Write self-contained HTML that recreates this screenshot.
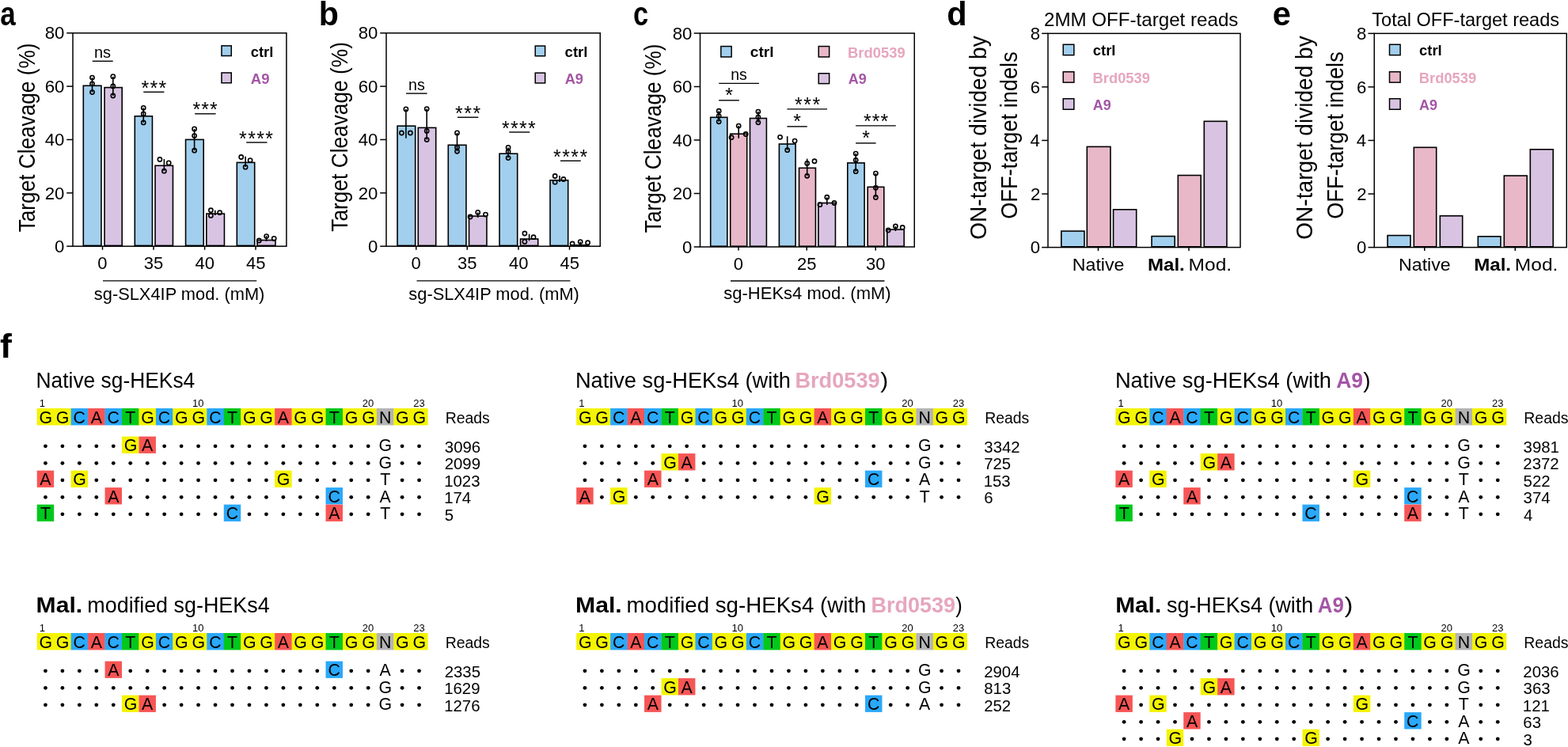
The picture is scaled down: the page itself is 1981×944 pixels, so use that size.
<!DOCTYPE html>
<html><head><meta charset="utf-8"><title>Figure</title>
<style>html,body{margin:0;padding:0;background:#fff;}svg{display:block;}</style>
</head><body>
<svg width="1981" height="944" viewBox="0 0 1981 944" font-family="'Liberation Sans', Arial, sans-serif">
<rect width="1981" height="944" fill="#fff"/>
<text x="0.15" y="32.30" font-size="42" font-weight="bold" fill="#000" textLength="19.44" lengthAdjust="spacingAndGlyphs">a</text>
<text x="402.82" y="32.30" font-size="42" font-weight="bold" fill="#000" textLength="25.16" lengthAdjust="spacingAndGlyphs">b</text>
<text x="799.92" y="32.30" font-size="42" font-weight="bold" fill="#000" textLength="19.15" lengthAdjust="spacingAndGlyphs">c</text>
<text x="1196.34" y="32.30" font-size="42" font-weight="bold" fill="#000" textLength="25.40" lengthAdjust="spacingAndGlyphs">d</text>
<text x="1607.83" y="32.30" font-size="42" font-weight="bold" fill="#000" textLength="23.17" lengthAdjust="spacingAndGlyphs">e</text>
<text x="0.13" y="452.10" font-size="42" font-weight="bold" fill="#000" textLength="14.88" lengthAdjust="spacingAndGlyphs">f</text>
<rect x="105.30" y="108.30" width="22.65" height="202.10" fill="#a2cfed" stroke="#000" stroke-width="1.6"/>
<rect x="132.05" y="110.60" width="22.15" height="199.80" fill="#d8c4e2" stroke="#000" stroke-width="1.6"/>
<rect x="170.30" y="146.80" width="22.15" height="163.60" fill="#a2cfed" stroke="#000" stroke-width="1.6"/>
<rect x="196.05" y="209.30" width="22.40" height="101.10" fill="#d8c4e2" stroke="#000" stroke-width="1.6"/>
<rect x="234.55" y="176.40" width="22.65" height="134.00" fill="#a2cfed" stroke="#000" stroke-width="1.6"/>
<rect x="260.80" y="270.10" width="22.65" height="40.30" fill="#d8c4e2" stroke="#000" stroke-width="1.6"/>
<rect x="299.30" y="205.40" width="22.40" height="105.00" fill="#a2cfed" stroke="#000" stroke-width="1.6"/>
<rect x="325.05" y="303.50" width="22.90" height="6.90" fill="#d8c4e2" stroke="#000" stroke-width="1.6"/>
<line x1="116.50" y1="98.10" x2="116.50" y2="116.60" stroke="#000" stroke-width="1.6"/>
<circle cx="116.50" cy="98.10" r="2.6" fill="none" stroke="#000" stroke-width="1.6"/>
<circle cx="116.50" cy="105.80" r="2.6" fill="none" stroke="#000" stroke-width="1.6"/>
<circle cx="116.50" cy="116.60" r="2.6" fill="none" stroke="#000" stroke-width="1.6"/>
<line x1="142.80" y1="96.65" x2="142.80" y2="121.00" stroke="#000" stroke-width="1.6"/>
<circle cx="142.80" cy="96.65" r="2.6" fill="none" stroke="#000" stroke-width="1.6"/>
<circle cx="142.80" cy="108.90" r="2.6" fill="none" stroke="#000" stroke-width="1.6"/>
<circle cx="142.80" cy="121.00" r="2.6" fill="none" stroke="#000" stroke-width="1.6"/>
<line x1="181.25" y1="136.30" x2="181.25" y2="154.90" stroke="#000" stroke-width="1.6"/>
<circle cx="181.25" cy="136.30" r="2.6" fill="none" stroke="#000" stroke-width="1.6"/>
<circle cx="181.25" cy="143.90" r="2.6" fill="none" stroke="#000" stroke-width="1.6"/>
<circle cx="181.25" cy="154.90" r="2.6" fill="none" stroke="#000" stroke-width="1.6"/>
<line x1="207.40" y1="201.00" x2="207.40" y2="216.20" stroke="#000" stroke-width="1.6"/>
<circle cx="201.90" cy="201.50" r="2.6" fill="none" stroke="#000" stroke-width="1.6"/>
<circle cx="213.20" cy="205.90" r="2.6" fill="none" stroke="#000" stroke-width="1.6"/>
<circle cx="207.40" cy="216.20" r="2.6" fill="none" stroke="#000" stroke-width="1.6"/>
<line x1="245.60" y1="162.90" x2="245.60" y2="190.20" stroke="#000" stroke-width="1.6"/>
<circle cx="245.60" cy="162.90" r="2.6" fill="none" stroke="#000" stroke-width="1.6"/>
<circle cx="245.60" cy="171.60" r="2.6" fill="none" stroke="#000" stroke-width="1.6"/>
<circle cx="245.60" cy="190.20" r="2.6" fill="none" stroke="#000" stroke-width="1.6"/>
<line x1="271.80" y1="265.70" x2="271.80" y2="272.00" stroke="#000" stroke-width="1.6"/>
<circle cx="266.40" cy="265.70" r="2.6" fill="none" stroke="#000" stroke-width="1.6"/>
<circle cx="266.40" cy="272.40" r="2.6" fill="none" stroke="#000" stroke-width="1.6"/>
<circle cx="277.60" cy="268.70" r="2.6" fill="none" stroke="#000" stroke-width="1.6"/>
<line x1="310.10" y1="197.70" x2="310.10" y2="211.00" stroke="#000" stroke-width="1.6"/>
<circle cx="304.70" cy="198.50" r="2.6" fill="none" stroke="#000" stroke-width="1.6"/>
<circle cx="316.10" cy="202.60" r="2.6" fill="none" stroke="#000" stroke-width="1.6"/>
<circle cx="310.10" cy="211.20" r="2.6" fill="none" stroke="#000" stroke-width="1.6"/>
<line x1="336.60" y1="298.00" x2="336.60" y2="305.00" stroke="#000" stroke-width="1.6"/>
<circle cx="327.30" cy="304.00" r="2.6" fill="none" stroke="#000" stroke-width="1.6"/>
<circle cx="336.60" cy="298.60" r="2.6" fill="none" stroke="#000" stroke-width="1.6"/>
<circle cx="346.20" cy="301.40" r="2.6" fill="none" stroke="#000" stroke-width="1.6"/>
<rect x="92.00" y="41.75" width="269.90" height="269.45" fill="none" stroke="#000" stroke-width="1.5"/>
<line x1="84.20" y1="311.20" x2="92.00" y2="311.20" stroke="#000" stroke-width="1.5"/>
<text x="69.06" y="318.86" font-size="22.2" fill="#000">0</text>
<line x1="84.20" y1="243.84" x2="92.00" y2="243.84" stroke="#000" stroke-width="1.5"/>
<text x="56.73" y="251.50" font-size="22.2" fill="#000">20</text>
<line x1="84.20" y1="176.47" x2="92.00" y2="176.47" stroke="#000" stroke-width="1.5"/>
<text x="56.73" y="184.13" font-size="22.2" fill="#000">40</text>
<line x1="84.20" y1="109.11" x2="92.00" y2="109.11" stroke="#000" stroke-width="1.5"/>
<text x="56.73" y="116.77" font-size="22.2" fill="#000">60</text>
<line x1="84.20" y1="41.75" x2="92.00" y2="41.75" stroke="#000" stroke-width="1.5"/>
<text x="56.73" y="49.41" font-size="22.2" fill="#000">80</text>
<line x1="129.50" y1="311.20" x2="129.50" y2="315.70" stroke="#000" stroke-width="1.5"/>
<text x="123.34" y="339.80" font-size="22" fill="#000">0</text>
<line x1="194.00" y1="311.20" x2="194.00" y2="315.70" stroke="#000" stroke-width="1.5"/>
<text x="181.79" y="339.80" font-size="22" fill="#000">35</text>
<line x1="258.60" y1="311.20" x2="258.60" y2="315.70" stroke="#000" stroke-width="1.5"/>
<text x="246.56" y="339.80" font-size="22" fill="#000">40</text>
<line x1="323.00" y1="311.20" x2="323.00" y2="315.70" stroke="#000" stroke-width="1.5"/>
<text x="311.01" y="339.80" font-size="22" fill="#000">45</text>
<line x1="130.00" y1="354.80" x2="324.25" y2="354.80" stroke="#000" stroke-width="1.3"/>
<text x="118.85" y="378.90" font-size="22" fill="#000" textLength="215.54" lengthAdjust="spacingAndGlyphs">sg-SLX4IP mod. (mM)</text>
<text transform="translate(43.60,292.80) rotate(-90)" x="-0.52" y="0" font-size="29" fill="#000" textLength="238.74" lengthAdjust="spacingAndGlyphs">Target Cleavage (%)</text>
<text x="119.00" y="72.80" font-size="21" fill="#000" textLength="21.12" lengthAdjust="spacingAndGlyphs">ns</text>
<line x1="116.70" y1="77.30" x2="142.70" y2="77.30" stroke="#000" stroke-width="1.4"/>
<text x="178.39" y="119.65" font-size="24.86" fill="#000" textLength="31.75" lengthAdjust="spacing">***</text>
<line x1="181.25" y1="116.30" x2="207.40" y2="116.30" stroke="#000" stroke-width="1.4"/>
<text x="243.40" y="146.85" font-size="24.86" fill="#000" textLength="31.34" lengthAdjust="spacing">***</text>
<line x1="246.20" y1="143.80" x2="272.60" y2="143.80" stroke="#000" stroke-width="1.4"/>
<text x="302.09" y="183.80" font-size="24.86" fill="#000" textLength="42.87" lengthAdjust="spacing">****</text>
<line x1="311.20" y1="180.00" x2="337.50" y2="180.00" stroke="#000" stroke-width="1.4"/>
<rect x="279.95" y="57.85" width="12.30" height="12.70" fill="#a2cfed" stroke="#000" stroke-width="1.5"/>
<text x="316.66" y="72.00" font-size="19" font-weight="bold" fill="#000" textLength="28.66" lengthAdjust="spacingAndGlyphs">ctrl</text>
<rect x="279.95" y="91.95" width="12.30" height="12.80" fill="#d8c4e2" stroke="#000" stroke-width="1.5"/>
<text x="316.73" y="105.80" font-size="19" font-weight="bold" fill="#a456a6" textLength="23.78" lengthAdjust="spacingAndGlyphs">A9</text>
<rect x="502.05" y="159.20" width="22.65" height="151.20" fill="#a2cfed" stroke="#000" stroke-width="1.6"/>
<rect x="528.30" y="161.40" width="22.40" height="149.00" fill="#d8c4e2" stroke="#000" stroke-width="1.6"/>
<rect x="566.30" y="183.30" width="22.65" height="127.10" fill="#a2cfed" stroke="#000" stroke-width="1.6"/>
<rect x="592.55" y="273.10" width="22.40" height="37.30" fill="#d8c4e2" stroke="#000" stroke-width="1.6"/>
<rect x="631.05" y="194.20" width="22.65" height="116.20" fill="#a2cfed" stroke="#000" stroke-width="1.6"/>
<rect x="657.55" y="302.00" width="22.15" height="8.40" fill="#d8c4e2" stroke="#000" stroke-width="1.6"/>
<rect x="695.05" y="227.80" width="22.65" height="82.60" fill="#a2cfed" stroke="#000" stroke-width="1.6"/>
<rect x="721.30" y="309.70" width="22.40" height="0.70" fill="#d8c4e2" stroke="#000" stroke-width="1.6"/>
<line x1="512.90" y1="137.90" x2="512.90" y2="174.70" stroke="#000" stroke-width="1.6"/>
<circle cx="512.90" cy="137.90" r="2.6" fill="none" stroke="#000" stroke-width="1.6"/>
<circle cx="507.40" cy="168.00" r="2.6" fill="none" stroke="#000" stroke-width="1.6"/>
<circle cx="518.40" cy="168.00" r="2.6" fill="none" stroke="#000" stroke-width="1.6"/>
<line x1="539.20" y1="137.60" x2="539.20" y2="176.60" stroke="#000" stroke-width="1.6"/>
<circle cx="539.20" cy="137.60" r="2.6" fill="none" stroke="#000" stroke-width="1.6"/>
<circle cx="539.20" cy="165.40" r="2.6" fill="none" stroke="#000" stroke-width="1.6"/>
<circle cx="539.20" cy="176.60" r="2.6" fill="none" stroke="#000" stroke-width="1.6"/>
<line x1="577.50" y1="167.90" x2="577.50" y2="191.30" stroke="#000" stroke-width="1.6"/>
<circle cx="577.50" cy="167.90" r="2.6" fill="none" stroke="#000" stroke-width="1.6"/>
<circle cx="577.50" cy="186.20" r="2.6" fill="none" stroke="#000" stroke-width="1.6"/>
<circle cx="577.50" cy="191.30" r="2.6" fill="none" stroke="#000" stroke-width="1.6"/>
<line x1="603.70" y1="268.40" x2="603.70" y2="275.00" stroke="#000" stroke-width="1.6"/>
<circle cx="594.10" cy="274.00" r="2.6" fill="none" stroke="#000" stroke-width="1.6"/>
<circle cx="603.70" cy="268.40" r="2.6" fill="none" stroke="#000" stroke-width="1.6"/>
<circle cx="613.50" cy="271.10" r="2.6" fill="none" stroke="#000" stroke-width="1.6"/>
<line x1="642.10" y1="186.40" x2="642.10" y2="199.60" stroke="#000" stroke-width="1.6"/>
<circle cx="642.10" cy="186.40" r="2.6" fill="none" stroke="#000" stroke-width="1.6"/>
<circle cx="642.10" cy="191.70" r="2.6" fill="none" stroke="#000" stroke-width="1.6"/>
<circle cx="642.10" cy="199.60" r="2.6" fill="none" stroke="#000" stroke-width="1.6"/>
<line x1="668.60" y1="295.70" x2="668.60" y2="304.30" stroke="#000" stroke-width="1.6"/>
<circle cx="662.90" cy="295.00" r="2.6" fill="none" stroke="#000" stroke-width="1.6"/>
<circle cx="662.90" cy="305.40" r="2.6" fill="none" stroke="#000" stroke-width="1.6"/>
<circle cx="674.00" cy="299.70" r="2.6" fill="none" stroke="#000" stroke-width="1.6"/>
<line x1="707.00" y1="222.00" x2="707.00" y2="230.00" stroke="#000" stroke-width="1.6"/>
<circle cx="701.20" cy="222.50" r="2.6" fill="none" stroke="#000" stroke-width="1.6"/>
<circle cx="701.20" cy="230.20" r="2.6" fill="none" stroke="#000" stroke-width="1.6"/>
<circle cx="711.90" cy="226.50" r="2.6" fill="none" stroke="#000" stroke-width="1.6"/>
<line x1="733.20" y1="305.60" x2="733.20" y2="309.00" stroke="#000" stroke-width="1.6"/>
<circle cx="723.10" cy="308.00" r="2.6" fill="none" stroke="#000" stroke-width="1.6"/>
<circle cx="733.20" cy="305.60" r="2.6" fill="none" stroke="#000" stroke-width="1.6"/>
<circle cx="742.60" cy="306.70" r="2.6" fill="none" stroke="#000" stroke-width="1.6"/>
<rect x="488.00" y="41.75" width="270.25" height="269.45" fill="none" stroke="#000" stroke-width="1.5"/>
<line x1="480.20" y1="311.20" x2="488.00" y2="311.20" stroke="#000" stroke-width="1.5"/>
<text x="465.06" y="318.86" font-size="22.2" fill="#000">0</text>
<line x1="480.20" y1="243.84" x2="488.00" y2="243.84" stroke="#000" stroke-width="1.5"/>
<text x="452.74" y="251.50" font-size="22.2" fill="#000">20</text>
<line x1="480.20" y1="176.47" x2="488.00" y2="176.47" stroke="#000" stroke-width="1.5"/>
<text x="452.74" y="184.13" font-size="22.2" fill="#000">40</text>
<line x1="480.20" y1="109.11" x2="488.00" y2="109.11" stroke="#000" stroke-width="1.5"/>
<text x="452.74" y="116.77" font-size="22.2" fill="#000">60</text>
<line x1="480.20" y1="41.75" x2="488.00" y2="41.75" stroke="#000" stroke-width="1.5"/>
<text x="452.74" y="49.41" font-size="22.2" fill="#000">80</text>
<line x1="525.75" y1="311.20" x2="525.75" y2="315.70" stroke="#000" stroke-width="1.5"/>
<text x="519.59" y="339.80" font-size="22" fill="#000">0</text>
<line x1="590.25" y1="311.20" x2="590.25" y2="315.70" stroke="#000" stroke-width="1.5"/>
<text x="578.04" y="339.80" font-size="22" fill="#000">35</text>
<line x1="655.00" y1="311.20" x2="655.00" y2="315.70" stroke="#000" stroke-width="1.5"/>
<text x="642.96" y="339.80" font-size="22" fill="#000">40</text>
<line x1="719.50" y1="311.20" x2="719.50" y2="315.70" stroke="#000" stroke-width="1.5"/>
<text x="707.51" y="339.80" font-size="22" fill="#000">45</text>
<line x1="526.50" y1="354.80" x2="720.50" y2="354.80" stroke="#000" stroke-width="1.3"/>
<text x="516.35" y="378.90" font-size="22" fill="#000" textLength="215.54" lengthAdjust="spacingAndGlyphs">sg-SLX4IP mod. (mM)</text>
<text transform="translate(439.20,292.20) rotate(-90)" x="-0.53" y="0" font-size="29" fill="#000" textLength="239.65" lengthAdjust="spacingAndGlyphs">Target Cleavage (%)</text>
<text x="516.12" y="114.10" font-size="21" fill="#000" textLength="20.79" lengthAdjust="spacingAndGlyphs">ns</text>
<line x1="513.10" y1="118.10" x2="539.60" y2="118.10" stroke="#000" stroke-width="1.4"/>
<text x="575.09" y="151.80" font-size="24.86" fill="#000" textLength="32.00" lengthAdjust="spacing">***</text>
<line x1="578.00" y1="148.25" x2="604.25" y2="148.25" stroke="#000" stroke-width="1.4"/>
<text x="634.09" y="170.55" font-size="24.86" fill="#000" textLength="42.61" lengthAdjust="spacing">****</text>
<line x1="643.25" y1="167.00" x2="669.25" y2="167.00" stroke="#000" stroke-width="1.4"/>
<text x="699.08" y="206.80" font-size="24.86" fill="#000" textLength="43.12" lengthAdjust="spacing">****</text>
<line x1="708.00" y1="203.25" x2="733.75" y2="203.25" stroke="#000" stroke-width="1.4"/>
<rect x="676.25" y="58.05" width="12.40" height="12.70" fill="#a2cfed" stroke="#000" stroke-width="1.5"/>
<text x="713.56" y="72.00" font-size="19" font-weight="bold" fill="#000" textLength="28.98" lengthAdjust="spacingAndGlyphs">ctrl</text>
<rect x="676.25" y="92.15" width="12.40" height="12.80" fill="#d8c4e2" stroke="#000" stroke-width="1.5"/>
<text x="713.64" y="105.80" font-size="19" font-weight="bold" fill="#a456a6" textLength="23.46" lengthAdjust="spacingAndGlyphs">A9</text>
<rect x="897.70" y="148.30" width="21.10" height="162.90" fill="#a2cfed" stroke="#000" stroke-width="1.6"/>
<rect x="922.70" y="169.20" width="21.00" height="142.00" fill="#e8b8c8" stroke="#000" stroke-width="1.6"/>
<rect x="947.50" y="149.50" width="20.90" height="161.70" fill="#d8c4e2" stroke="#000" stroke-width="1.6"/>
<rect x="984.40" y="182.00" width="20.70" height="129.20" fill="#a2cfed" stroke="#000" stroke-width="1.6"/>
<rect x="1009.55" y="212.30" width="20.90" height="98.90" fill="#e8b8c8" stroke="#000" stroke-width="1.6"/>
<rect x="1033.90" y="256.50" width="21.55" height="54.70" fill="#d8c4e2" stroke="#000" stroke-width="1.6"/>
<rect x="1070.80" y="205.90" width="21.30" height="105.30" fill="#a2cfed" stroke="#000" stroke-width="1.6"/>
<rect x="1096.20" y="236.30" width="20.60" height="74.90" fill="#e8b8c8" stroke="#000" stroke-width="1.6"/>
<rect x="1120.80" y="290.10" width="21.40" height="21.10" fill="#d8c4e2" stroke="#000" stroke-width="1.6"/>
<line x1="908.20" y1="140.20" x2="908.20" y2="153.80" stroke="#000" stroke-width="1.6"/>
<circle cx="908.20" cy="140.20" r="2.6" fill="none" stroke="#000" stroke-width="1.6"/>
<circle cx="908.20" cy="146.60" r="2.6" fill="none" stroke="#000" stroke-width="1.6"/>
<circle cx="908.20" cy="153.80" r="2.6" fill="none" stroke="#000" stroke-width="1.6"/>
<line x1="933.20" y1="159.10" x2="933.20" y2="174.80" stroke="#000" stroke-width="1.6"/>
<circle cx="924.10" cy="173.70" r="2.6" fill="none" stroke="#000" stroke-width="1.6"/>
<circle cx="933.20" cy="159.10" r="2.6" fill="none" stroke="#000" stroke-width="1.6"/>
<circle cx="942.20" cy="169.50" r="2.6" fill="none" stroke="#000" stroke-width="1.6"/>
<line x1="957.90" y1="141.10" x2="957.90" y2="154.80" stroke="#000" stroke-width="1.6"/>
<circle cx="957.90" cy="141.10" r="2.6" fill="none" stroke="#000" stroke-width="1.6"/>
<circle cx="957.90" cy="148.10" r="2.6" fill="none" stroke="#000" stroke-width="1.6"/>
<circle cx="957.90" cy="154.80" r="2.6" fill="none" stroke="#000" stroke-width="1.6"/>
<line x1="994.70" y1="172.20" x2="994.70" y2="189.70" stroke="#000" stroke-width="1.6"/>
<circle cx="985.60" cy="173.30" r="2.6" fill="none" stroke="#000" stroke-width="1.6"/>
<circle cx="1004.10" cy="178.10" r="2.6" fill="none" stroke="#000" stroke-width="1.6"/>
<circle cx="994.70" cy="189.70" r="2.6" fill="none" stroke="#000" stroke-width="1.6"/>
<line x1="1019.70" y1="200.60" x2="1019.70" y2="222.30" stroke="#000" stroke-width="1.6"/>
<circle cx="1019.70" cy="206.40" r="2.6" fill="none" stroke="#000" stroke-width="1.6"/>
<circle cx="1029.00" cy="203.70" r="2.6" fill="none" stroke="#000" stroke-width="1.6"/>
<circle cx="1019.70" cy="222.30" r="2.6" fill="none" stroke="#000" stroke-width="1.6"/>
<line x1="1044.80" y1="249.20" x2="1044.80" y2="259.00" stroke="#000" stroke-width="1.6"/>
<circle cx="1035.90" cy="258.70" r="2.6" fill="none" stroke="#000" stroke-width="1.6"/>
<circle cx="1044.80" cy="249.20" r="2.6" fill="none" stroke="#000" stroke-width="1.6"/>
<circle cx="1054.00" cy="256.50" r="2.6" fill="none" stroke="#000" stroke-width="1.6"/>
<line x1="1081.20" y1="194.10" x2="1081.20" y2="216.70" stroke="#000" stroke-width="1.6"/>
<circle cx="1081.20" cy="194.10" r="2.6" fill="none" stroke="#000" stroke-width="1.6"/>
<circle cx="1081.20" cy="202.30" r="2.6" fill="none" stroke="#000" stroke-width="1.6"/>
<circle cx="1081.20" cy="216.70" r="2.6" fill="none" stroke="#000" stroke-width="1.6"/>
<line x1="1106.40" y1="219.10" x2="1106.40" y2="249.50" stroke="#000" stroke-width="1.6"/>
<circle cx="1106.40" cy="219.10" r="2.6" fill="none" stroke="#000" stroke-width="1.6"/>
<circle cx="1106.40" cy="237.30" r="2.6" fill="none" stroke="#000" stroke-width="1.6"/>
<circle cx="1106.40" cy="249.50" r="2.6" fill="none" stroke="#000" stroke-width="1.6"/>
<line x1="1131.40" y1="286.00" x2="1131.40" y2="292.00" stroke="#000" stroke-width="1.6"/>
<circle cx="1122.20" cy="290.90" r="2.6" fill="none" stroke="#000" stroke-width="1.6"/>
<circle cx="1131.40" cy="286.00" r="2.6" fill="none" stroke="#000" stroke-width="1.6"/>
<circle cx="1140.20" cy="287.50" r="2.6" fill="none" stroke="#000" stroke-width="1.6"/>
<rect x="884.50" y="42.00" width="270.75" height="270.00" fill="none" stroke="#000" stroke-width="1.5"/>
<line x1="876.70" y1="312.00" x2="884.50" y2="312.00" stroke="#000" stroke-width="1.5"/>
<text x="861.96" y="319.66" font-size="22.2" fill="#000">0</text>
<line x1="876.70" y1="244.50" x2="884.50" y2="244.50" stroke="#000" stroke-width="1.5"/>
<text x="849.63" y="252.16" font-size="22.2" fill="#000">20</text>
<line x1="876.70" y1="177.00" x2="884.50" y2="177.00" stroke="#000" stroke-width="1.5"/>
<text x="849.63" y="184.66" font-size="22.2" fill="#000">40</text>
<line x1="876.70" y1="109.50" x2="884.50" y2="109.50" stroke="#000" stroke-width="1.5"/>
<text x="849.63" y="117.16" font-size="22.2" fill="#000">60</text>
<line x1="876.70" y1="42.00" x2="884.50" y2="42.00" stroke="#000" stroke-width="1.5"/>
<text x="849.63" y="49.66" font-size="22.2" fill="#000">80</text>
<line x1="933.00" y1="312.00" x2="933.00" y2="316.50" stroke="#000" stroke-width="1.5"/>
<text x="926.84" y="341.20" font-size="22" fill="#000">0</text>
<line x1="1019.25" y1="312.00" x2="1019.25" y2="316.50" stroke="#000" stroke-width="1.5"/>
<text x="1006.93" y="341.20" font-size="22" fill="#000">25</text>
<line x1="1106.25" y1="312.00" x2="1106.25" y2="316.50" stroke="#000" stroke-width="1.5"/>
<text x="1093.98" y="341.20" font-size="22" fill="#000">30</text>
<line x1="923.00" y1="355.00" x2="1117.50" y2="355.00" stroke="#000" stroke-width="1.3"/>
<text x="914.34" y="378.20" font-size="22" fill="#000" textLength="211.29" lengthAdjust="spacingAndGlyphs">sg-HEKs4 mod. (mM)</text>
<text transform="translate(835.10,293.70) rotate(-90)" x="-0.52" y="0" font-size="29" fill="#000" textLength="238.74" lengthAdjust="spacingAndGlyphs">Target Cleavage (%)</text>
<text x="923.23" y="100.70" font-size="21" fill="#000" textLength="20.57" lengthAdjust="spacingAndGlyphs">ns</text>
<line x1="908.20" y1="105.35" x2="959.00" y2="105.35" stroke="#000" stroke-width="1.4"/>
<text x="916.27" y="129.10" font-size="24.86" fill="#000" textLength="8.54" lengthAdjust="spacing">*</text>
<line x1="908.20" y1="126.80" x2="933.80" y2="126.80" stroke="#000" stroke-width="1.4"/>
<text x="1004.09" y="141.45" font-size="24.86" fill="#000" textLength="32.05" lengthAdjust="spacing">***</text>
<line x1="994.40" y1="137.90" x2="1045.10" y2="137.90" stroke="#000" stroke-width="1.4"/>
<text x="1002.26" y="162.35" font-size="24.86" fill="#000" textLength="8.86" lengthAdjust="spacing">*</text>
<line x1="994.40" y1="159.90" x2="1019.80" y2="159.90" stroke="#000" stroke-width="1.4"/>
<text x="1091.10" y="162.35" font-size="24.86" fill="#000" textLength="31.03" lengthAdjust="spacing">***</text>
<line x1="1081.10" y1="158.90" x2="1131.80" y2="158.90" stroke="#000" stroke-width="1.4"/>
<text x="1089.36" y="183.40" font-size="24.86" fill="#000" textLength="8.76" lengthAdjust="spacing">*</text>
<line x1="1081.10" y1="180.90" x2="1106.60" y2="180.90" stroke="#000" stroke-width="1.4"/>
<rect x="910.85" y="58.55" width="13.30" height="13.40" fill="#a2cfed" stroke="#000" stroke-width="1.5"/>
<text x="947.83" y="72.10" font-size="19" font-weight="bold" fill="#000" textLength="29.84" lengthAdjust="spacingAndGlyphs">ctrl</text>
<rect x="1034.25" y="58.55" width="13.40" height="13.40" fill="#e8b8c8" stroke="#000" stroke-width="1.5"/>
<text x="1071.10" y="72.50" font-size="19" font-weight="bold" fill="#e6a6be" textLength="72.57" lengthAdjust="spacingAndGlyphs">Brd0539</text>
<rect x="1034.25" y="92.75" width="13.40" height="12.90" fill="#d8c4e2" stroke="#000" stroke-width="1.5"/>
<text x="1071.85" y="105.90" font-size="19" font-weight="bold" fill="#a456a6" textLength="23.04" lengthAdjust="spacingAndGlyphs">A9</text>
<rect x="1340.80" y="292.05" width="29.15" height="19.75" fill="#a2cfed" stroke="#000" stroke-width="1.6"/>
<rect x="1373.30" y="185.40" width="29.65" height="126.40" fill="#e8b8c8" stroke="#000" stroke-width="1.6"/>
<rect x="1406.55" y="264.80" width="29.15" height="47.00" fill="#d8c4e2" stroke="#000" stroke-width="1.6"/>
<rect x="1455.05" y="298.55" width="29.15" height="13.25" fill="#a2cfed" stroke="#000" stroke-width="1.6"/>
<rect x="1488.30" y="221.55" width="28.90" height="90.25" fill="#e8b8c8" stroke="#000" stroke-width="1.6"/>
<rect x="1521.30" y="153.30" width="28.65" height="158.50" fill="#d8c4e2" stroke="#000" stroke-width="1.6"/>
<rect x="1324.00" y="42.30" width="243.00" height="270.30" fill="none" stroke="#000" stroke-width="1.5"/>
<line x1="1316.20" y1="312.60" x2="1324.00" y2="312.60" stroke="#000" stroke-width="1.5"/>
<text x="1301.66" y="320.26" font-size="22.2" fill="#000">0</text>
<line x1="1316.20" y1="245.03" x2="1324.00" y2="245.03" stroke="#000" stroke-width="1.5"/>
<text x="1301.99" y="252.80" font-size="22.2" fill="#000">2</text>
<line x1="1316.20" y1="177.45" x2="1324.00" y2="177.45" stroke="#000" stroke-width="1.5"/>
<text x="1301.55" y="185.11" font-size="22.2" fill="#000">4</text>
<line x1="1316.20" y1="109.88" x2="1324.00" y2="109.88" stroke="#000" stroke-width="1.5"/>
<text x="1301.77" y="117.53" font-size="22.2" fill="#000">6</text>
<line x1="1316.20" y1="42.30" x2="1324.00" y2="42.30" stroke="#000" stroke-width="1.5"/>
<text x="1301.77" y="49.96" font-size="22.2" fill="#000">8</text>
<line x1="1387.50" y1="312.60" x2="1387.50" y2="317.10" stroke="#000" stroke-width="1.5"/>
<line x1="1502.00" y1="312.60" x2="1502.00" y2="317.10" stroke="#000" stroke-width="1.5"/>
<text x="1354.85" y="342.10" font-size="22" fill="#000" textLength="65.58" lengthAdjust="spacingAndGlyphs">Native</text>
<text x="1449.93" y="342.10" font-size="22" font-weight="bold" fill="#000" textLength="46.85" lengthAdjust="spacingAndGlyphs">Mal.</text>
<text x="1501.64" y="342.10" font-size="22" fill="#000" textLength="54.44" lengthAdjust="spacingAndGlyphs">Mod.</text>
<text x="1318.99" y="33.00" font-size="24" fill="#000" textLength="245.43" lengthAdjust="spacingAndGlyphs">2MM OFF-target reads</text>
<text transform="translate(1246.00,301.50) rotate(-90)" x="-1.26" y="0" font-size="29" fill="#000" textLength="257.49" lengthAdjust="spacingAndGlyphs">ON-target divided by</text>
<text transform="translate(1285.20,275.60) rotate(-90)" x="-1.22" y="0" font-size="29" fill="#000" textLength="211.59" lengthAdjust="spacingAndGlyphs">OFF-target indels</text>
<rect x="1343.25" y="56.25" width="13.60" height="13.40" fill="#a2cfed" stroke="#000" stroke-width="1.5"/>
<text x="1380.76" y="70.10" font-size="19" font-weight="bold" fill="#000" textLength="28.76" lengthAdjust="spacingAndGlyphs">ctrl</text>
<rect x="1343.25" y="90.75" width="13.60" height="13.40" fill="#e8b8c8" stroke="#000" stroke-width="1.5"/>
<text x="1380.61" y="105.20" font-size="19" font-weight="bold" fill="#e6a6be" textLength="72.27" lengthAdjust="spacingAndGlyphs">Brd0539</text>
<rect x="1343.25" y="124.75" width="13.60" height="13.50" fill="#d8c4e2" stroke="#000" stroke-width="1.5"/>
<text x="1380.85" y="139.10" font-size="19" font-weight="bold" fill="#a456a6" textLength="23.04" lengthAdjust="spacingAndGlyphs">A9</text>
<rect x="1753.05" y="297.55" width="28.90" height="14.25" fill="#a2cfed" stroke="#000" stroke-width="1.6"/>
<rect x="1786.30" y="186.30" width="28.40" height="125.50" fill="#e8b8c8" stroke="#000" stroke-width="1.6"/>
<rect x="1819.30" y="272.80" width="28.40" height="39.00" fill="#d8c4e2" stroke="#000" stroke-width="1.6"/>
<rect x="1867.30" y="298.80" width="28.65" height="13.00" fill="#a2cfed" stroke="#000" stroke-width="1.6"/>
<rect x="1900.30" y="222.05" width="28.90" height="89.75" fill="#e8b8c8" stroke="#000" stroke-width="1.6"/>
<rect x="1933.30" y="188.80" width="28.90" height="123.00" fill="#d8c4e2" stroke="#000" stroke-width="1.6"/>
<rect x="1736.25" y="42.30" width="243.00" height="270.30" fill="none" stroke="#000" stroke-width="1.5"/>
<line x1="1728.45" y1="312.60" x2="1736.25" y2="312.60" stroke="#000" stroke-width="1.5"/>
<text x="1713.91" y="320.26" font-size="22.2" fill="#000">0</text>
<line x1="1728.45" y1="245.03" x2="1736.25" y2="245.03" stroke="#000" stroke-width="1.5"/>
<text x="1714.24" y="252.80" font-size="22.2" fill="#000">2</text>
<line x1="1728.45" y1="177.45" x2="1736.25" y2="177.45" stroke="#000" stroke-width="1.5"/>
<text x="1713.80" y="185.11" font-size="22.2" fill="#000">4</text>
<line x1="1728.45" y1="109.88" x2="1736.25" y2="109.88" stroke="#000" stroke-width="1.5"/>
<text x="1714.02" y="117.53" font-size="22.2" fill="#000">6</text>
<line x1="1728.45" y1="42.30" x2="1736.25" y2="42.30" stroke="#000" stroke-width="1.5"/>
<text x="1714.02" y="49.96" font-size="22.2" fill="#000">8</text>
<line x1="1799.75" y1="312.60" x2="1799.75" y2="317.10" stroke="#000" stroke-width="1.5"/>
<line x1="1914.25" y1="312.60" x2="1914.25" y2="317.10" stroke="#000" stroke-width="1.5"/>
<text x="1767.10" y="342.10" font-size="22" fill="#000" textLength="65.58" lengthAdjust="spacingAndGlyphs">Native</text>
<text x="1862.18" y="342.10" font-size="22" font-weight="bold" fill="#000" textLength="46.85" lengthAdjust="spacingAndGlyphs">Mal.</text>
<text x="1913.89" y="342.10" font-size="22" fill="#000" textLength="54.44" lengthAdjust="spacingAndGlyphs">Mod.</text>
<text x="1733.28" y="33.00" font-size="24" fill="#000" textLength="236.78" lengthAdjust="spacingAndGlyphs">Total OFF-target reads</text>
<text transform="translate(1658.25,301.50) rotate(-90)" x="-1.26" y="0" font-size="29" fill="#000" textLength="257.49" lengthAdjust="spacingAndGlyphs">ON-target divided by</text>
<text transform="translate(1697.45,275.60) rotate(-90)" x="-1.22" y="0" font-size="29" fill="#000" textLength="211.59" lengthAdjust="spacingAndGlyphs">OFF-target indels</text>
<rect x="1755.50" y="56.25" width="13.60" height="13.40" fill="#a2cfed" stroke="#000" stroke-width="1.5"/>
<text x="1793.01" y="70.10" font-size="19" font-weight="bold" fill="#000" textLength="28.76" lengthAdjust="spacingAndGlyphs">ctrl</text>
<rect x="1755.50" y="90.75" width="13.60" height="13.40" fill="#e8b8c8" stroke="#000" stroke-width="1.5"/>
<text x="1792.86" y="105.20" font-size="19" font-weight="bold" fill="#e6a6be" textLength="72.27" lengthAdjust="spacingAndGlyphs">Brd0539</text>
<rect x="1755.50" y="124.75" width="13.60" height="13.50" fill="#d8c4e2" stroke="#000" stroke-width="1.5"/>
<text x="1793.10" y="139.10" font-size="19" font-weight="bold" fill="#a456a6" textLength="23.04" lengthAdjust="spacingAndGlyphs">A9</text>
<rect x="46.70" y="516.00" width="21.76" height="21.40" fill="#f4f400"/>
<rect x="68.16" y="516.00" width="21.76" height="21.40" fill="#f4f400"/>
<rect x="89.62" y="516.00" width="21.76" height="21.40" fill="#2aa8fa"/>
<rect x="111.08" y="516.00" width="21.76" height="21.40" fill="#f75555"/>
<rect x="132.54" y="516.00" width="21.76" height="21.40" fill="#2aa8fa"/>
<rect x="154.00" y="516.00" width="21.76" height="21.40" fill="#00c81c"/>
<rect x="175.46" y="516.00" width="21.76" height="21.40" fill="#f4f400"/>
<rect x="196.92" y="516.00" width="21.76" height="21.40" fill="#2aa8fa"/>
<rect x="218.38" y="516.00" width="21.76" height="21.40" fill="#f4f400"/>
<rect x="239.84" y="516.00" width="21.76" height="21.40" fill="#f4f400"/>
<rect x="261.30" y="516.00" width="21.76" height="21.40" fill="#2aa8fa"/>
<rect x="282.76" y="516.00" width="21.76" height="21.40" fill="#00c81c"/>
<rect x="304.22" y="516.00" width="21.76" height="21.40" fill="#f4f400"/>
<rect x="325.68" y="516.00" width="21.76" height="21.40" fill="#f4f400"/>
<rect x="347.14" y="516.00" width="21.76" height="21.40" fill="#f75555"/>
<rect x="368.60" y="516.00" width="21.76" height="21.40" fill="#f4f400"/>
<rect x="390.06" y="516.00" width="21.76" height="21.40" fill="#f4f400"/>
<rect x="411.52" y="516.00" width="21.76" height="21.40" fill="#00c81c"/>
<rect x="432.98" y="516.00" width="21.76" height="21.40" fill="#f4f400"/>
<rect x="454.44" y="516.00" width="21.76" height="21.40" fill="#f4f400"/>
<rect x="475.90" y="516.00" width="21.76" height="21.40" fill="#b4b4b4"/>
<rect x="497.36" y="516.00" width="21.76" height="21.40" fill="#f4f400"/>
<rect x="518.82" y="516.00" width="21.76" height="21.40" fill="#f4f400"/>
<text x="49.39" y="535.20" font-size="21.3" fill="#000">G</text>
<text x="70.85" y="535.20" font-size="21.3" fill="#000">G</text>
<text x="92.52" y="535.20" font-size="21.3" fill="#000">C</text>
<text x="114.73" y="535.20" font-size="21.3" fill="#000">A</text>
<text x="135.44" y="535.20" font-size="21.3" fill="#000">C</text>
<text x="158.23" y="535.20" font-size="21.3" fill="#000">T</text>
<text x="178.15" y="535.20" font-size="21.3" fill="#000">G</text>
<text x="199.82" y="535.20" font-size="21.3" fill="#000">C</text>
<text x="221.07" y="535.20" font-size="21.3" fill="#000">G</text>
<text x="242.53" y="535.20" font-size="21.3" fill="#000">G</text>
<text x="264.20" y="535.20" font-size="21.3" fill="#000">C</text>
<text x="286.99" y="535.20" font-size="21.3" fill="#000">T</text>
<text x="306.91" y="535.20" font-size="21.3" fill="#000">G</text>
<text x="328.37" y="535.20" font-size="21.3" fill="#000">G</text>
<text x="350.79" y="535.20" font-size="21.3" fill="#000">A</text>
<text x="371.29" y="535.20" font-size="21.3" fill="#000">G</text>
<text x="392.75" y="535.20" font-size="21.3" fill="#000">G</text>
<text x="415.75" y="535.20" font-size="21.3" fill="#000">T</text>
<text x="435.67" y="535.20" font-size="21.3" fill="#000">G</text>
<text x="457.13" y="535.20" font-size="21.3" fill="#000">G</text>
<text x="478.96" y="535.20" font-size="21.3" fill="#000">N</text>
<text x="500.05" y="535.20" font-size="21.3" fill="#000">G</text>
<text x="521.51" y="535.20" font-size="21.3" fill="#000">G</text>
<text x="49.83" y="514.00" font-size="13" fill="#000">1</text>
<text x="243.09" y="514.00" font-size="13" fill="#000">10</text>
<text x="457.86" y="514.00" font-size="13" fill="#000">20</text>
<text x="522.27" y="514.00" font-size="13" fill="#000">23</text>
<text x="562.65" y="535.10" font-size="20.5" fill="#000" textLength="56.15" lengthAdjust="spacingAndGlyphs">Reads</text>
<circle cx="57.43" cy="563.80" r="2.4" fill="#000"/>
<circle cx="78.89" cy="563.80" r="2.4" fill="#000"/>
<circle cx="100.35" cy="563.80" r="2.4" fill="#000"/>
<circle cx="121.81" cy="563.80" r="2.4" fill="#000"/>
<circle cx="143.27" cy="563.80" r="2.4" fill="#000"/>
<rect x="154.00" y="551.60" width="21.46" height="21.30" fill="#f4f400"/>
<text x="156.69" y="570.30" font-size="21.3" fill="#000">G</text>
<rect x="175.46" y="551.60" width="21.46" height="21.30" fill="#f75555"/>
<text x="179.11" y="570.30" font-size="21.3" fill="#000">A</text>
<circle cx="207.65" cy="563.80" r="2.4" fill="#000"/>
<circle cx="229.11" cy="563.80" r="2.4" fill="#000"/>
<circle cx="250.57" cy="563.80" r="2.4" fill="#000"/>
<circle cx="272.03" cy="563.80" r="2.4" fill="#000"/>
<circle cx="293.49" cy="563.80" r="2.4" fill="#000"/>
<circle cx="314.95" cy="563.80" r="2.4" fill="#000"/>
<circle cx="336.41" cy="563.80" r="2.4" fill="#000"/>
<circle cx="357.87" cy="563.80" r="2.4" fill="#000"/>
<circle cx="379.33" cy="563.80" r="2.4" fill="#000"/>
<circle cx="400.79" cy="563.80" r="2.4" fill="#000"/>
<circle cx="422.25" cy="563.80" r="2.4" fill="#000"/>
<circle cx="443.71" cy="563.80" r="2.4" fill="#000"/>
<circle cx="465.17" cy="563.80" r="2.4" fill="#000"/>
<text x="478.59" y="570.30" font-size="21.3" fill="#000">G</text>
<circle cx="508.09" cy="563.80" r="2.4" fill="#000"/>
<circle cx="529.55" cy="563.80" r="2.4" fill="#000"/>
<text x="561.89" y="571.90" font-size="20" textLength="45.32" lengthAdjust="spacingAndGlyphs">3096</text>
<circle cx="57.43" cy="585.30" r="2.4" fill="#000"/>
<circle cx="78.89" cy="585.30" r="2.4" fill="#000"/>
<circle cx="100.35" cy="585.30" r="2.4" fill="#000"/>
<circle cx="121.81" cy="585.30" r="2.4" fill="#000"/>
<circle cx="143.27" cy="585.30" r="2.4" fill="#000"/>
<circle cx="164.73" cy="585.30" r="2.4" fill="#000"/>
<circle cx="186.19" cy="585.30" r="2.4" fill="#000"/>
<circle cx="207.65" cy="585.30" r="2.4" fill="#000"/>
<circle cx="229.11" cy="585.30" r="2.4" fill="#000"/>
<circle cx="250.57" cy="585.30" r="2.4" fill="#000"/>
<circle cx="272.03" cy="585.30" r="2.4" fill="#000"/>
<circle cx="293.49" cy="585.30" r="2.4" fill="#000"/>
<circle cx="314.95" cy="585.30" r="2.4" fill="#000"/>
<circle cx="336.41" cy="585.30" r="2.4" fill="#000"/>
<circle cx="357.87" cy="585.30" r="2.4" fill="#000"/>
<circle cx="379.33" cy="585.30" r="2.4" fill="#000"/>
<circle cx="400.79" cy="585.30" r="2.4" fill="#000"/>
<circle cx="422.25" cy="585.30" r="2.4" fill="#000"/>
<circle cx="443.71" cy="585.30" r="2.4" fill="#000"/>
<circle cx="465.17" cy="585.30" r="2.4" fill="#000"/>
<text x="478.59" y="591.80" font-size="21.3" fill="#000">G</text>
<circle cx="508.09" cy="585.30" r="2.4" fill="#000"/>
<circle cx="529.55" cy="585.30" r="2.4" fill="#000"/>
<text x="561.68" y="593.40" font-size="20" textLength="45.32" lengthAdjust="spacingAndGlyphs">2099</text>
<rect x="46.70" y="594.60" width="21.46" height="21.30" fill="#f75555"/>
<text x="50.35" y="613.30" font-size="21.3" fill="#000">A</text>
<circle cx="78.89" cy="606.80" r="2.4" fill="#000"/>
<rect x="89.62" y="594.60" width="21.46" height="21.30" fill="#f4f400"/>
<text x="92.31" y="613.30" font-size="21.3" fill="#000">G</text>
<circle cx="121.81" cy="606.80" r="2.4" fill="#000"/>
<circle cx="143.27" cy="606.80" r="2.4" fill="#000"/>
<circle cx="164.73" cy="606.80" r="2.4" fill="#000"/>
<circle cx="186.19" cy="606.80" r="2.4" fill="#000"/>
<circle cx="207.65" cy="606.80" r="2.4" fill="#000"/>
<circle cx="229.11" cy="606.80" r="2.4" fill="#000"/>
<circle cx="250.57" cy="606.80" r="2.4" fill="#000"/>
<circle cx="272.03" cy="606.80" r="2.4" fill="#000"/>
<circle cx="293.49" cy="606.80" r="2.4" fill="#000"/>
<circle cx="314.95" cy="606.80" r="2.4" fill="#000"/>
<circle cx="336.41" cy="606.80" r="2.4" fill="#000"/>
<rect x="347.14" y="594.60" width="21.46" height="21.30" fill="#f4f400"/>
<text x="349.83" y="613.30" font-size="21.3" fill="#000">G</text>
<circle cx="379.33" cy="606.80" r="2.4" fill="#000"/>
<circle cx="400.79" cy="606.80" r="2.4" fill="#000"/>
<circle cx="422.25" cy="606.80" r="2.4" fill="#000"/>
<circle cx="443.71" cy="606.80" r="2.4" fill="#000"/>
<circle cx="465.17" cy="606.80" r="2.4" fill="#000"/>
<text x="480.13" y="613.30" font-size="21.3" fill="#000">T</text>
<circle cx="508.09" cy="606.80" r="2.4" fill="#000"/>
<circle cx="529.55" cy="606.80" r="2.4" fill="#000"/>
<text x="561.17" y="614.90" font-size="20" textLength="45.32" lengthAdjust="spacingAndGlyphs">1023</text>
<circle cx="57.43" cy="628.30" r="2.4" fill="#000"/>
<circle cx="78.89" cy="628.30" r="2.4" fill="#000"/>
<circle cx="100.35" cy="628.30" r="2.4" fill="#000"/>
<circle cx="121.81" cy="628.30" r="2.4" fill="#000"/>
<rect x="132.54" y="616.10" width="21.46" height="21.30" fill="#f75555"/>
<text x="136.19" y="634.80" font-size="21.3" fill="#000">A</text>
<circle cx="164.73" cy="628.30" r="2.4" fill="#000"/>
<circle cx="186.19" cy="628.30" r="2.4" fill="#000"/>
<circle cx="207.65" cy="628.30" r="2.4" fill="#000"/>
<circle cx="229.11" cy="628.30" r="2.4" fill="#000"/>
<circle cx="250.57" cy="628.30" r="2.4" fill="#000"/>
<circle cx="272.03" cy="628.30" r="2.4" fill="#000"/>
<circle cx="293.49" cy="628.30" r="2.4" fill="#000"/>
<circle cx="314.95" cy="628.30" r="2.4" fill="#000"/>
<circle cx="336.41" cy="628.30" r="2.4" fill="#000"/>
<circle cx="357.87" cy="628.30" r="2.4" fill="#000"/>
<circle cx="379.33" cy="628.30" r="2.4" fill="#000"/>
<circle cx="400.79" cy="628.30" r="2.4" fill="#000"/>
<rect x="411.52" y="616.10" width="21.46" height="21.30" fill="#2aa8fa"/>
<text x="414.42" y="634.80" font-size="21.3" fill="#000">C</text>
<circle cx="443.71" cy="628.30" r="2.4" fill="#000"/>
<circle cx="465.17" cy="628.30" r="2.4" fill="#000"/>
<text x="479.55" y="634.80" font-size="21.3" fill="#000">A</text>
<circle cx="508.09" cy="628.30" r="2.4" fill="#000"/>
<circle cx="529.55" cy="628.30" r="2.4" fill="#000"/>
<text x="561.17" y="636.40" font-size="20" textLength="33.99" lengthAdjust="spacingAndGlyphs">174</text>
<rect x="46.70" y="637.60" width="21.46" height="21.30" fill="#00c81c"/>
<text x="50.93" y="656.30" font-size="21.3" fill="#000">T</text>
<circle cx="78.89" cy="649.80" r="2.4" fill="#000"/>
<circle cx="100.35" cy="649.80" r="2.4" fill="#000"/>
<circle cx="121.81" cy="649.80" r="2.4" fill="#000"/>
<circle cx="143.27" cy="649.80" r="2.4" fill="#000"/>
<circle cx="164.73" cy="649.80" r="2.4" fill="#000"/>
<circle cx="186.19" cy="649.80" r="2.4" fill="#000"/>
<circle cx="207.65" cy="649.80" r="2.4" fill="#000"/>
<circle cx="229.11" cy="649.80" r="2.4" fill="#000"/>
<circle cx="250.57" cy="649.80" r="2.4" fill="#000"/>
<circle cx="272.03" cy="649.80" r="2.4" fill="#000"/>
<rect x="282.76" y="637.60" width="21.46" height="21.30" fill="#2aa8fa"/>
<text x="285.66" y="656.30" font-size="21.3" fill="#000">C</text>
<circle cx="314.95" cy="649.80" r="2.4" fill="#000"/>
<circle cx="336.41" cy="649.80" r="2.4" fill="#000"/>
<circle cx="357.87" cy="649.80" r="2.4" fill="#000"/>
<circle cx="379.33" cy="649.80" r="2.4" fill="#000"/>
<circle cx="400.79" cy="649.80" r="2.4" fill="#000"/>
<rect x="411.52" y="637.60" width="21.46" height="21.30" fill="#f75555"/>
<text x="415.17" y="656.30" font-size="21.3" fill="#000">A</text>
<circle cx="443.71" cy="649.80" r="2.4" fill="#000"/>
<circle cx="465.17" cy="649.80" r="2.4" fill="#000"/>
<text x="480.13" y="656.30" font-size="21.3" fill="#000">T</text>
<circle cx="508.09" cy="649.80" r="2.4" fill="#000"/>
<circle cx="529.55" cy="649.80" r="2.4" fill="#000"/>
<text x="561.89" y="657.90" font-size="20" textLength="11.33" lengthAdjust="spacingAndGlyphs">5</text>
<rect x="728.20" y="516.00" width="21.76" height="21.40" fill="#f4f400"/>
<rect x="749.66" y="516.00" width="21.76" height="21.40" fill="#f4f400"/>
<rect x="771.12" y="516.00" width="21.76" height="21.40" fill="#2aa8fa"/>
<rect x="792.58" y="516.00" width="21.76" height="21.40" fill="#f75555"/>
<rect x="814.04" y="516.00" width="21.76" height="21.40" fill="#2aa8fa"/>
<rect x="835.50" y="516.00" width="21.76" height="21.40" fill="#00c81c"/>
<rect x="856.96" y="516.00" width="21.76" height="21.40" fill="#f4f400"/>
<rect x="878.42" y="516.00" width="21.76" height="21.40" fill="#2aa8fa"/>
<rect x="899.88" y="516.00" width="21.76" height="21.40" fill="#f4f400"/>
<rect x="921.34" y="516.00" width="21.76" height="21.40" fill="#f4f400"/>
<rect x="942.80" y="516.00" width="21.76" height="21.40" fill="#2aa8fa"/>
<rect x="964.26" y="516.00" width="21.76" height="21.40" fill="#00c81c"/>
<rect x="985.72" y="516.00" width="21.76" height="21.40" fill="#f4f400"/>
<rect x="1007.18" y="516.00" width="21.76" height="21.40" fill="#f4f400"/>
<rect x="1028.64" y="516.00" width="21.76" height="21.40" fill="#f75555"/>
<rect x="1050.10" y="516.00" width="21.76" height="21.40" fill="#f4f400"/>
<rect x="1071.56" y="516.00" width="21.76" height="21.40" fill="#f4f400"/>
<rect x="1093.02" y="516.00" width="21.76" height="21.40" fill="#00c81c"/>
<rect x="1114.48" y="516.00" width="21.76" height="21.40" fill="#f4f400"/>
<rect x="1135.94" y="516.00" width="21.76" height="21.40" fill="#f4f400"/>
<rect x="1157.40" y="516.00" width="21.76" height="21.40" fill="#b4b4b4"/>
<rect x="1178.86" y="516.00" width="21.76" height="21.40" fill="#f4f400"/>
<rect x="1200.32" y="516.00" width="21.76" height="21.40" fill="#f4f400"/>
<text x="730.89" y="535.20" font-size="21.3" fill="#000">G</text>
<text x="752.35" y="535.20" font-size="21.3" fill="#000">G</text>
<text x="774.02" y="535.20" font-size="21.3" fill="#000">C</text>
<text x="796.23" y="535.20" font-size="21.3" fill="#000">A</text>
<text x="816.94" y="535.20" font-size="21.3" fill="#000">C</text>
<text x="839.73" y="535.20" font-size="21.3" fill="#000">T</text>
<text x="859.65" y="535.20" font-size="21.3" fill="#000">G</text>
<text x="881.32" y="535.20" font-size="21.3" fill="#000">C</text>
<text x="902.57" y="535.20" font-size="21.3" fill="#000">G</text>
<text x="924.03" y="535.20" font-size="21.3" fill="#000">G</text>
<text x="945.70" y="535.20" font-size="21.3" fill="#000">C</text>
<text x="968.49" y="535.20" font-size="21.3" fill="#000">T</text>
<text x="988.41" y="535.20" font-size="21.3" fill="#000">G</text>
<text x="1009.87" y="535.20" font-size="21.3" fill="#000">G</text>
<text x="1032.29" y="535.20" font-size="21.3" fill="#000">A</text>
<text x="1052.79" y="535.20" font-size="21.3" fill="#000">G</text>
<text x="1074.25" y="535.20" font-size="21.3" fill="#000">G</text>
<text x="1097.25" y="535.20" font-size="21.3" fill="#000">T</text>
<text x="1117.17" y="535.20" font-size="21.3" fill="#000">G</text>
<text x="1138.63" y="535.20" font-size="21.3" fill="#000">G</text>
<text x="1160.46" y="535.20" font-size="21.3" fill="#000">N</text>
<text x="1181.55" y="535.20" font-size="21.3" fill="#000">G</text>
<text x="1203.01" y="535.20" font-size="21.3" fill="#000">G</text>
<text x="731.33" y="514.00" font-size="13" fill="#000">1</text>
<text x="924.60" y="514.00" font-size="13" fill="#000">10</text>
<text x="1139.36" y="514.00" font-size="13" fill="#000">20</text>
<text x="1203.77" y="514.00" font-size="13" fill="#000">23</text>
<text x="1244.15" y="535.10" font-size="20.5" fill="#000" textLength="56.15" lengthAdjust="spacingAndGlyphs">Reads</text>
<circle cx="738.93" cy="563.80" r="2.4" fill="#000"/>
<circle cx="760.39" cy="563.80" r="2.4" fill="#000"/>
<circle cx="781.85" cy="563.80" r="2.4" fill="#000"/>
<circle cx="803.31" cy="563.80" r="2.4" fill="#000"/>
<circle cx="824.77" cy="563.80" r="2.4" fill="#000"/>
<circle cx="846.23" cy="563.80" r="2.4" fill="#000"/>
<circle cx="867.69" cy="563.80" r="2.4" fill="#000"/>
<circle cx="889.15" cy="563.80" r="2.4" fill="#000"/>
<circle cx="910.61" cy="563.80" r="2.4" fill="#000"/>
<circle cx="932.07" cy="563.80" r="2.4" fill="#000"/>
<circle cx="953.53" cy="563.80" r="2.4" fill="#000"/>
<circle cx="974.99" cy="563.80" r="2.4" fill="#000"/>
<circle cx="996.45" cy="563.80" r="2.4" fill="#000"/>
<circle cx="1017.91" cy="563.80" r="2.4" fill="#000"/>
<circle cx="1039.37" cy="563.80" r="2.4" fill="#000"/>
<circle cx="1060.83" cy="563.80" r="2.4" fill="#000"/>
<circle cx="1082.29" cy="563.80" r="2.4" fill="#000"/>
<circle cx="1103.75" cy="563.80" r="2.4" fill="#000"/>
<circle cx="1125.21" cy="563.80" r="2.4" fill="#000"/>
<circle cx="1146.67" cy="563.80" r="2.4" fill="#000"/>
<text x="1160.09" y="570.30" font-size="21.3" fill="#000">G</text>
<circle cx="1189.59" cy="563.80" r="2.4" fill="#000"/>
<circle cx="1211.05" cy="563.80" r="2.4" fill="#000"/>
<text x="1243.39" y="571.90" font-size="20" textLength="45.32" lengthAdjust="spacingAndGlyphs">3342</text>
<circle cx="738.93" cy="585.30" r="2.4" fill="#000"/>
<circle cx="760.39" cy="585.30" r="2.4" fill="#000"/>
<circle cx="781.85" cy="585.30" r="2.4" fill="#000"/>
<circle cx="803.31" cy="585.30" r="2.4" fill="#000"/>
<circle cx="824.77" cy="585.30" r="2.4" fill="#000"/>
<rect x="835.50" y="573.10" width="21.46" height="21.30" fill="#f4f400"/>
<text x="838.19" y="591.80" font-size="21.3" fill="#000">G</text>
<rect x="856.96" y="573.10" width="21.46" height="21.30" fill="#f75555"/>
<text x="860.61" y="591.80" font-size="21.3" fill="#000">A</text>
<circle cx="889.15" cy="585.30" r="2.4" fill="#000"/>
<circle cx="910.61" cy="585.30" r="2.4" fill="#000"/>
<circle cx="932.07" cy="585.30" r="2.4" fill="#000"/>
<circle cx="953.53" cy="585.30" r="2.4" fill="#000"/>
<circle cx="974.99" cy="585.30" r="2.4" fill="#000"/>
<circle cx="996.45" cy="585.30" r="2.4" fill="#000"/>
<circle cx="1017.91" cy="585.30" r="2.4" fill="#000"/>
<circle cx="1039.37" cy="585.30" r="2.4" fill="#000"/>
<circle cx="1060.83" cy="585.30" r="2.4" fill="#000"/>
<circle cx="1082.29" cy="585.30" r="2.4" fill="#000"/>
<circle cx="1103.75" cy="585.30" r="2.4" fill="#000"/>
<circle cx="1125.21" cy="585.30" r="2.4" fill="#000"/>
<circle cx="1146.67" cy="585.30" r="2.4" fill="#000"/>
<text x="1160.09" y="591.80" font-size="21.3" fill="#000">G</text>
<circle cx="1189.59" cy="585.30" r="2.4" fill="#000"/>
<circle cx="1211.05" cy="585.30" r="2.4" fill="#000"/>
<text x="1243.18" y="593.40" font-size="20" textLength="33.99" lengthAdjust="spacingAndGlyphs">725</text>
<circle cx="738.93" cy="606.80" r="2.4" fill="#000"/>
<circle cx="760.39" cy="606.80" r="2.4" fill="#000"/>
<circle cx="781.85" cy="606.80" r="2.4" fill="#000"/>
<circle cx="803.31" cy="606.80" r="2.4" fill="#000"/>
<rect x="814.04" y="594.60" width="21.46" height="21.30" fill="#f75555"/>
<text x="817.69" y="613.30" font-size="21.3" fill="#000">A</text>
<circle cx="846.23" cy="606.80" r="2.4" fill="#000"/>
<circle cx="867.69" cy="606.80" r="2.4" fill="#000"/>
<circle cx="889.15" cy="606.80" r="2.4" fill="#000"/>
<circle cx="910.61" cy="606.80" r="2.4" fill="#000"/>
<circle cx="932.07" cy="606.80" r="2.4" fill="#000"/>
<circle cx="953.53" cy="606.80" r="2.4" fill="#000"/>
<circle cx="974.99" cy="606.80" r="2.4" fill="#000"/>
<circle cx="996.45" cy="606.80" r="2.4" fill="#000"/>
<circle cx="1017.91" cy="606.80" r="2.4" fill="#000"/>
<circle cx="1039.37" cy="606.80" r="2.4" fill="#000"/>
<circle cx="1060.83" cy="606.80" r="2.4" fill="#000"/>
<circle cx="1082.29" cy="606.80" r="2.4" fill="#000"/>
<rect x="1093.02" y="594.60" width="21.46" height="21.30" fill="#2aa8fa"/>
<text x="1095.92" y="613.30" font-size="21.3" fill="#000">C</text>
<circle cx="1125.21" cy="606.80" r="2.4" fill="#000"/>
<circle cx="1146.67" cy="606.80" r="2.4" fill="#000"/>
<text x="1161.05" y="613.30" font-size="21.3" fill="#000">A</text>
<circle cx="1189.59" cy="606.80" r="2.4" fill="#000"/>
<circle cx="1211.05" cy="606.80" r="2.4" fill="#000"/>
<text x="1242.67" y="614.90" font-size="20" textLength="33.99" lengthAdjust="spacingAndGlyphs">153</text>
<rect x="728.20" y="616.10" width="21.46" height="21.30" fill="#f75555"/>
<text x="731.85" y="634.80" font-size="21.3" fill="#000">A</text>
<circle cx="760.39" cy="628.30" r="2.4" fill="#000"/>
<rect x="771.12" y="616.10" width="21.46" height="21.30" fill="#f4f400"/>
<text x="773.81" y="634.80" font-size="21.3" fill="#000">G</text>
<circle cx="803.31" cy="628.30" r="2.4" fill="#000"/>
<circle cx="824.77" cy="628.30" r="2.4" fill="#000"/>
<circle cx="846.23" cy="628.30" r="2.4" fill="#000"/>
<circle cx="867.69" cy="628.30" r="2.4" fill="#000"/>
<circle cx="889.15" cy="628.30" r="2.4" fill="#000"/>
<circle cx="910.61" cy="628.30" r="2.4" fill="#000"/>
<circle cx="932.07" cy="628.30" r="2.4" fill="#000"/>
<circle cx="953.53" cy="628.30" r="2.4" fill="#000"/>
<circle cx="974.99" cy="628.30" r="2.4" fill="#000"/>
<circle cx="996.45" cy="628.30" r="2.4" fill="#000"/>
<circle cx="1017.91" cy="628.30" r="2.4" fill="#000"/>
<rect x="1028.64" y="616.10" width="21.46" height="21.30" fill="#f4f400"/>
<text x="1031.33" y="634.80" font-size="21.3" fill="#000">G</text>
<circle cx="1060.83" cy="628.30" r="2.4" fill="#000"/>
<circle cx="1082.29" cy="628.30" r="2.4" fill="#000"/>
<circle cx="1103.75" cy="628.30" r="2.4" fill="#000"/>
<circle cx="1125.21" cy="628.30" r="2.4" fill="#000"/>
<circle cx="1146.67" cy="628.30" r="2.4" fill="#000"/>
<text x="1161.63" y="634.80" font-size="21.3" fill="#000">T</text>
<circle cx="1189.59" cy="628.30" r="2.4" fill="#000"/>
<circle cx="1211.05" cy="628.30" r="2.4" fill="#000"/>
<text x="1243.18" y="636.40" font-size="20" textLength="11.33" lengthAdjust="spacingAndGlyphs">6</text>
<rect x="1409.40" y="516.00" width="21.76" height="21.40" fill="#f4f400"/>
<rect x="1430.86" y="516.00" width="21.76" height="21.40" fill="#f4f400"/>
<rect x="1452.32" y="516.00" width="21.76" height="21.40" fill="#2aa8fa"/>
<rect x="1473.78" y="516.00" width="21.76" height="21.40" fill="#f75555"/>
<rect x="1495.24" y="516.00" width="21.76" height="21.40" fill="#2aa8fa"/>
<rect x="1516.70" y="516.00" width="21.76" height="21.40" fill="#00c81c"/>
<rect x="1538.16" y="516.00" width="21.76" height="21.40" fill="#f4f400"/>
<rect x="1559.62" y="516.00" width="21.76" height="21.40" fill="#2aa8fa"/>
<rect x="1581.08" y="516.00" width="21.76" height="21.40" fill="#f4f400"/>
<rect x="1602.54" y="516.00" width="21.76" height="21.40" fill="#f4f400"/>
<rect x="1624.00" y="516.00" width="21.76" height="21.40" fill="#2aa8fa"/>
<rect x="1645.46" y="516.00" width="21.76" height="21.40" fill="#00c81c"/>
<rect x="1666.92" y="516.00" width="21.76" height="21.40" fill="#f4f400"/>
<rect x="1688.38" y="516.00" width="21.76" height="21.40" fill="#f4f400"/>
<rect x="1709.84" y="516.00" width="21.76" height="21.40" fill="#f75555"/>
<rect x="1731.30" y="516.00" width="21.76" height="21.40" fill="#f4f400"/>
<rect x="1752.76" y="516.00" width="21.76" height="21.40" fill="#f4f400"/>
<rect x="1774.22" y="516.00" width="21.76" height="21.40" fill="#00c81c"/>
<rect x="1795.68" y="516.00" width="21.76" height="21.40" fill="#f4f400"/>
<rect x="1817.14" y="516.00" width="21.76" height="21.40" fill="#f4f400"/>
<rect x="1838.60" y="516.00" width="21.76" height="21.40" fill="#b4b4b4"/>
<rect x="1860.06" y="516.00" width="21.76" height="21.40" fill="#f4f400"/>
<rect x="1881.52" y="516.00" width="21.76" height="21.40" fill="#f4f400"/>
<text x="1412.09" y="535.20" font-size="21.3" fill="#000">G</text>
<text x="1433.55" y="535.20" font-size="21.3" fill="#000">G</text>
<text x="1455.22" y="535.20" font-size="21.3" fill="#000">C</text>
<text x="1477.43" y="535.20" font-size="21.3" fill="#000">A</text>
<text x="1498.14" y="535.20" font-size="21.3" fill="#000">C</text>
<text x="1520.93" y="535.20" font-size="21.3" fill="#000">T</text>
<text x="1540.85" y="535.20" font-size="21.3" fill="#000">G</text>
<text x="1562.52" y="535.20" font-size="21.3" fill="#000">C</text>
<text x="1583.77" y="535.20" font-size="21.3" fill="#000">G</text>
<text x="1605.23" y="535.20" font-size="21.3" fill="#000">G</text>
<text x="1626.90" y="535.20" font-size="21.3" fill="#000">C</text>
<text x="1649.69" y="535.20" font-size="21.3" fill="#000">T</text>
<text x="1669.61" y="535.20" font-size="21.3" fill="#000">G</text>
<text x="1691.07" y="535.20" font-size="21.3" fill="#000">G</text>
<text x="1713.49" y="535.20" font-size="21.3" fill="#000">A</text>
<text x="1733.99" y="535.20" font-size="21.3" fill="#000">G</text>
<text x="1755.45" y="535.20" font-size="21.3" fill="#000">G</text>
<text x="1778.45" y="535.20" font-size="21.3" fill="#000">T</text>
<text x="1798.37" y="535.20" font-size="21.3" fill="#000">G</text>
<text x="1819.83" y="535.20" font-size="21.3" fill="#000">G</text>
<text x="1841.66" y="535.20" font-size="21.3" fill="#000">N</text>
<text x="1862.75" y="535.20" font-size="21.3" fill="#000">G</text>
<text x="1884.21" y="535.20" font-size="21.3" fill="#000">G</text>
<text x="1412.53" y="514.00" font-size="13" fill="#000">1</text>
<text x="1605.80" y="514.00" font-size="13" fill="#000">10</text>
<text x="1820.56" y="514.00" font-size="13" fill="#000">20</text>
<text x="1884.97" y="514.00" font-size="13" fill="#000">23</text>
<text x="1925.35" y="535.10" font-size="20.5" fill="#000" textLength="56.15" lengthAdjust="spacingAndGlyphs">Reads</text>
<circle cx="1420.13" cy="563.80" r="2.4" fill="#000"/>
<circle cx="1441.59" cy="563.80" r="2.4" fill="#000"/>
<circle cx="1463.05" cy="563.80" r="2.4" fill="#000"/>
<circle cx="1484.51" cy="563.80" r="2.4" fill="#000"/>
<circle cx="1505.97" cy="563.80" r="2.4" fill="#000"/>
<circle cx="1527.43" cy="563.80" r="2.4" fill="#000"/>
<circle cx="1548.89" cy="563.80" r="2.4" fill="#000"/>
<circle cx="1570.35" cy="563.80" r="2.4" fill="#000"/>
<circle cx="1591.81" cy="563.80" r="2.4" fill="#000"/>
<circle cx="1613.27" cy="563.80" r="2.4" fill="#000"/>
<circle cx="1634.73" cy="563.80" r="2.4" fill="#000"/>
<circle cx="1656.19" cy="563.80" r="2.4" fill="#000"/>
<circle cx="1677.65" cy="563.80" r="2.4" fill="#000"/>
<circle cx="1699.11" cy="563.80" r="2.4" fill="#000"/>
<circle cx="1720.57" cy="563.80" r="2.4" fill="#000"/>
<circle cx="1742.03" cy="563.80" r="2.4" fill="#000"/>
<circle cx="1763.49" cy="563.80" r="2.4" fill="#000"/>
<circle cx="1784.95" cy="563.80" r="2.4" fill="#000"/>
<circle cx="1806.41" cy="563.80" r="2.4" fill="#000"/>
<circle cx="1827.87" cy="563.80" r="2.4" fill="#000"/>
<text x="1841.29" y="570.30" font-size="21.3" fill="#000">G</text>
<circle cx="1870.79" cy="563.80" r="2.4" fill="#000"/>
<circle cx="1892.25" cy="563.80" r="2.4" fill="#000"/>
<text x="1924.59" y="571.90" font-size="20" textLength="45.32" lengthAdjust="spacingAndGlyphs">3981</text>
<circle cx="1420.13" cy="585.30" r="2.4" fill="#000"/>
<circle cx="1441.59" cy="585.30" r="2.4" fill="#000"/>
<circle cx="1463.05" cy="585.30" r="2.4" fill="#000"/>
<circle cx="1484.51" cy="585.30" r="2.4" fill="#000"/>
<circle cx="1505.97" cy="585.30" r="2.4" fill="#000"/>
<rect x="1516.70" y="573.10" width="21.46" height="21.30" fill="#f4f400"/>
<text x="1519.39" y="591.80" font-size="21.3" fill="#000">G</text>
<rect x="1538.16" y="573.10" width="21.46" height="21.30" fill="#f75555"/>
<text x="1541.81" y="591.80" font-size="21.3" fill="#000">A</text>
<circle cx="1570.35" cy="585.30" r="2.4" fill="#000"/>
<circle cx="1591.81" cy="585.30" r="2.4" fill="#000"/>
<circle cx="1613.27" cy="585.30" r="2.4" fill="#000"/>
<circle cx="1634.73" cy="585.30" r="2.4" fill="#000"/>
<circle cx="1656.19" cy="585.30" r="2.4" fill="#000"/>
<circle cx="1677.65" cy="585.30" r="2.4" fill="#000"/>
<circle cx="1699.11" cy="585.30" r="2.4" fill="#000"/>
<circle cx="1720.57" cy="585.30" r="2.4" fill="#000"/>
<circle cx="1742.03" cy="585.30" r="2.4" fill="#000"/>
<circle cx="1763.49" cy="585.30" r="2.4" fill="#000"/>
<circle cx="1784.95" cy="585.30" r="2.4" fill="#000"/>
<circle cx="1806.41" cy="585.30" r="2.4" fill="#000"/>
<circle cx="1827.87" cy="585.30" r="2.4" fill="#000"/>
<text x="1841.29" y="591.80" font-size="21.3" fill="#000">G</text>
<circle cx="1870.79" cy="585.30" r="2.4" fill="#000"/>
<circle cx="1892.25" cy="585.30" r="2.4" fill="#000"/>
<text x="1924.38" y="593.40" font-size="20" textLength="45.32" lengthAdjust="spacingAndGlyphs">2372</text>
<rect x="1409.40" y="594.60" width="21.46" height="21.30" fill="#f75555"/>
<text x="1413.05" y="613.30" font-size="21.3" fill="#000">A</text>
<circle cx="1441.59" cy="606.80" r="2.4" fill="#000"/>
<rect x="1452.32" y="594.60" width="21.46" height="21.30" fill="#f4f400"/>
<text x="1455.01" y="613.30" font-size="21.3" fill="#000">G</text>
<circle cx="1484.51" cy="606.80" r="2.4" fill="#000"/>
<circle cx="1505.97" cy="606.80" r="2.4" fill="#000"/>
<circle cx="1527.43" cy="606.80" r="2.4" fill="#000"/>
<circle cx="1548.89" cy="606.80" r="2.4" fill="#000"/>
<circle cx="1570.35" cy="606.80" r="2.4" fill="#000"/>
<circle cx="1591.81" cy="606.80" r="2.4" fill="#000"/>
<circle cx="1613.27" cy="606.80" r="2.4" fill="#000"/>
<circle cx="1634.73" cy="606.80" r="2.4" fill="#000"/>
<circle cx="1656.19" cy="606.80" r="2.4" fill="#000"/>
<circle cx="1677.65" cy="606.80" r="2.4" fill="#000"/>
<circle cx="1699.11" cy="606.80" r="2.4" fill="#000"/>
<rect x="1709.84" y="594.60" width="21.46" height="21.30" fill="#f4f400"/>
<text x="1712.53" y="613.30" font-size="21.3" fill="#000">G</text>
<circle cx="1742.03" cy="606.80" r="2.4" fill="#000"/>
<circle cx="1763.49" cy="606.80" r="2.4" fill="#000"/>
<circle cx="1784.95" cy="606.80" r="2.4" fill="#000"/>
<circle cx="1806.41" cy="606.80" r="2.4" fill="#000"/>
<circle cx="1827.87" cy="606.80" r="2.4" fill="#000"/>
<text x="1842.83" y="613.30" font-size="21.3" fill="#000">T</text>
<circle cx="1870.79" cy="606.80" r="2.4" fill="#000"/>
<circle cx="1892.25" cy="606.80" r="2.4" fill="#000"/>
<text x="1924.59" y="614.90" font-size="20" textLength="33.99" lengthAdjust="spacingAndGlyphs">522</text>
<circle cx="1420.13" cy="628.30" r="2.4" fill="#000"/>
<circle cx="1441.59" cy="628.30" r="2.4" fill="#000"/>
<circle cx="1463.05" cy="628.30" r="2.4" fill="#000"/>
<circle cx="1484.51" cy="628.30" r="2.4" fill="#000"/>
<rect x="1495.24" y="616.10" width="21.46" height="21.30" fill="#f75555"/>
<text x="1498.89" y="634.80" font-size="21.3" fill="#000">A</text>
<circle cx="1527.43" cy="628.30" r="2.4" fill="#000"/>
<circle cx="1548.89" cy="628.30" r="2.4" fill="#000"/>
<circle cx="1570.35" cy="628.30" r="2.4" fill="#000"/>
<circle cx="1591.81" cy="628.30" r="2.4" fill="#000"/>
<circle cx="1613.27" cy="628.30" r="2.4" fill="#000"/>
<circle cx="1634.73" cy="628.30" r="2.4" fill="#000"/>
<circle cx="1656.19" cy="628.30" r="2.4" fill="#000"/>
<circle cx="1677.65" cy="628.30" r="2.4" fill="#000"/>
<circle cx="1699.11" cy="628.30" r="2.4" fill="#000"/>
<circle cx="1720.57" cy="628.30" r="2.4" fill="#000"/>
<circle cx="1742.03" cy="628.30" r="2.4" fill="#000"/>
<circle cx="1763.49" cy="628.30" r="2.4" fill="#000"/>
<rect x="1774.22" y="616.10" width="21.46" height="21.30" fill="#2aa8fa"/>
<text x="1777.12" y="634.80" font-size="21.3" fill="#000">C</text>
<circle cx="1806.41" cy="628.30" r="2.4" fill="#000"/>
<circle cx="1827.87" cy="628.30" r="2.4" fill="#000"/>
<text x="1842.25" y="634.80" font-size="21.3" fill="#000">A</text>
<circle cx="1870.79" cy="628.30" r="2.4" fill="#000"/>
<circle cx="1892.25" cy="628.30" r="2.4" fill="#000"/>
<text x="1924.59" y="636.40" font-size="20" textLength="33.99" lengthAdjust="spacingAndGlyphs">374</text>
<rect x="1409.40" y="637.60" width="21.46" height="21.30" fill="#00c81c"/>
<text x="1413.63" y="656.30" font-size="21.3" fill="#000">T</text>
<circle cx="1441.59" cy="649.80" r="2.4" fill="#000"/>
<circle cx="1463.05" cy="649.80" r="2.4" fill="#000"/>
<circle cx="1484.51" cy="649.80" r="2.4" fill="#000"/>
<circle cx="1505.97" cy="649.80" r="2.4" fill="#000"/>
<circle cx="1527.43" cy="649.80" r="2.4" fill="#000"/>
<circle cx="1548.89" cy="649.80" r="2.4" fill="#000"/>
<circle cx="1570.35" cy="649.80" r="2.4" fill="#000"/>
<circle cx="1591.81" cy="649.80" r="2.4" fill="#000"/>
<circle cx="1613.27" cy="649.80" r="2.4" fill="#000"/>
<circle cx="1634.73" cy="649.80" r="2.4" fill="#000"/>
<rect x="1645.46" y="637.60" width="21.46" height="21.30" fill="#2aa8fa"/>
<text x="1648.36" y="656.30" font-size="21.3" fill="#000">C</text>
<circle cx="1677.65" cy="649.80" r="2.4" fill="#000"/>
<circle cx="1699.11" cy="649.80" r="2.4" fill="#000"/>
<circle cx="1720.57" cy="649.80" r="2.4" fill="#000"/>
<circle cx="1742.03" cy="649.80" r="2.4" fill="#000"/>
<circle cx="1763.49" cy="649.80" r="2.4" fill="#000"/>
<rect x="1774.22" y="637.60" width="21.46" height="21.30" fill="#f75555"/>
<text x="1777.87" y="656.30" font-size="21.3" fill="#000">A</text>
<circle cx="1806.41" cy="649.80" r="2.4" fill="#000"/>
<circle cx="1827.87" cy="649.80" r="2.4" fill="#000"/>
<text x="1842.83" y="656.30" font-size="21.3" fill="#000">T</text>
<circle cx="1870.79" cy="649.80" r="2.4" fill="#000"/>
<circle cx="1892.25" cy="649.80" r="2.4" fill="#000"/>
<text x="1924.99" y="657.90" font-size="20" textLength="11.33" lengthAdjust="spacingAndGlyphs">4</text>
<rect x="46.70" y="800.00" width="21.76" height="21.40" fill="#f4f400"/>
<rect x="68.16" y="800.00" width="21.76" height="21.40" fill="#f4f400"/>
<rect x="89.62" y="800.00" width="21.76" height="21.40" fill="#2aa8fa"/>
<rect x="111.08" y="800.00" width="21.76" height="21.40" fill="#f75555"/>
<rect x="132.54" y="800.00" width="21.76" height="21.40" fill="#2aa8fa"/>
<rect x="154.00" y="800.00" width="21.76" height="21.40" fill="#00c81c"/>
<rect x="175.46" y="800.00" width="21.76" height="21.40" fill="#f4f400"/>
<rect x="196.92" y="800.00" width="21.76" height="21.40" fill="#2aa8fa"/>
<rect x="218.38" y="800.00" width="21.76" height="21.40" fill="#f4f400"/>
<rect x="239.84" y="800.00" width="21.76" height="21.40" fill="#f4f400"/>
<rect x="261.30" y="800.00" width="21.76" height="21.40" fill="#2aa8fa"/>
<rect x="282.76" y="800.00" width="21.76" height="21.40" fill="#00c81c"/>
<rect x="304.22" y="800.00" width="21.76" height="21.40" fill="#f4f400"/>
<rect x="325.68" y="800.00" width="21.76" height="21.40" fill="#f4f400"/>
<rect x="347.14" y="800.00" width="21.76" height="21.40" fill="#f75555"/>
<rect x="368.60" y="800.00" width="21.76" height="21.40" fill="#f4f400"/>
<rect x="390.06" y="800.00" width="21.76" height="21.40" fill="#f4f400"/>
<rect x="411.52" y="800.00" width="21.76" height="21.40" fill="#00c81c"/>
<rect x="432.98" y="800.00" width="21.76" height="21.40" fill="#f4f400"/>
<rect x="454.44" y="800.00" width="21.76" height="21.40" fill="#f4f400"/>
<rect x="475.90" y="800.00" width="21.76" height="21.40" fill="#b4b4b4"/>
<rect x="497.36" y="800.00" width="21.76" height="21.40" fill="#f4f400"/>
<rect x="518.82" y="800.00" width="21.76" height="21.40" fill="#f4f400"/>
<text x="49.39" y="819.20" font-size="21.3" fill="#000">G</text>
<text x="70.85" y="819.20" font-size="21.3" fill="#000">G</text>
<text x="92.52" y="819.20" font-size="21.3" fill="#000">C</text>
<text x="114.73" y="819.20" font-size="21.3" fill="#000">A</text>
<text x="135.44" y="819.20" font-size="21.3" fill="#000">C</text>
<text x="158.23" y="819.20" font-size="21.3" fill="#000">T</text>
<text x="178.15" y="819.20" font-size="21.3" fill="#000">G</text>
<text x="199.82" y="819.20" font-size="21.3" fill="#000">C</text>
<text x="221.07" y="819.20" font-size="21.3" fill="#000">G</text>
<text x="242.53" y="819.20" font-size="21.3" fill="#000">G</text>
<text x="264.20" y="819.20" font-size="21.3" fill="#000">C</text>
<text x="286.99" y="819.20" font-size="21.3" fill="#000">T</text>
<text x="306.91" y="819.20" font-size="21.3" fill="#000">G</text>
<text x="328.37" y="819.20" font-size="21.3" fill="#000">G</text>
<text x="350.79" y="819.20" font-size="21.3" fill="#000">A</text>
<text x="371.29" y="819.20" font-size="21.3" fill="#000">G</text>
<text x="392.75" y="819.20" font-size="21.3" fill="#000">G</text>
<text x="415.75" y="819.20" font-size="21.3" fill="#000">T</text>
<text x="435.67" y="819.20" font-size="21.3" fill="#000">G</text>
<text x="457.13" y="819.20" font-size="21.3" fill="#000">G</text>
<text x="478.96" y="819.20" font-size="21.3" fill="#000">N</text>
<text x="500.05" y="819.20" font-size="21.3" fill="#000">G</text>
<text x="521.51" y="819.20" font-size="21.3" fill="#000">G</text>
<text x="49.83" y="798.00" font-size="13" fill="#000">1</text>
<text x="243.09" y="798.00" font-size="13" fill="#000">10</text>
<text x="457.86" y="798.00" font-size="13" fill="#000">20</text>
<text x="522.27" y="798.00" font-size="13" fill="#000">23</text>
<text x="562.65" y="819.10" font-size="20.5" fill="#000" textLength="56.15" lengthAdjust="spacingAndGlyphs">Reads</text>
<circle cx="57.43" cy="847.80" r="2.4" fill="#000"/>
<circle cx="78.89" cy="847.80" r="2.4" fill="#000"/>
<circle cx="100.35" cy="847.80" r="2.4" fill="#000"/>
<circle cx="121.81" cy="847.80" r="2.4" fill="#000"/>
<rect x="132.54" y="835.60" width="21.46" height="21.30" fill="#f75555"/>
<text x="136.19" y="854.30" font-size="21.3" fill="#000">A</text>
<circle cx="164.73" cy="847.80" r="2.4" fill="#000"/>
<circle cx="186.19" cy="847.80" r="2.4" fill="#000"/>
<circle cx="207.65" cy="847.80" r="2.4" fill="#000"/>
<circle cx="229.11" cy="847.80" r="2.4" fill="#000"/>
<circle cx="250.57" cy="847.80" r="2.4" fill="#000"/>
<circle cx="272.03" cy="847.80" r="2.4" fill="#000"/>
<circle cx="293.49" cy="847.80" r="2.4" fill="#000"/>
<circle cx="314.95" cy="847.80" r="2.4" fill="#000"/>
<circle cx="336.41" cy="847.80" r="2.4" fill="#000"/>
<circle cx="357.87" cy="847.80" r="2.4" fill="#000"/>
<circle cx="379.33" cy="847.80" r="2.4" fill="#000"/>
<circle cx="400.79" cy="847.80" r="2.4" fill="#000"/>
<rect x="411.52" y="835.60" width="21.46" height="21.30" fill="#2aa8fa"/>
<text x="414.42" y="854.30" font-size="21.3" fill="#000">C</text>
<circle cx="443.71" cy="847.80" r="2.4" fill="#000"/>
<circle cx="465.17" cy="847.80" r="2.4" fill="#000"/>
<text x="479.55" y="854.30" font-size="21.3" fill="#000">A</text>
<circle cx="508.09" cy="847.80" r="2.4" fill="#000"/>
<circle cx="529.55" cy="847.80" r="2.4" fill="#000"/>
<text x="561.68" y="855.90" font-size="20" textLength="45.32" lengthAdjust="spacingAndGlyphs">2335</text>
<circle cx="57.43" cy="869.30" r="2.4" fill="#000"/>
<circle cx="78.89" cy="869.30" r="2.4" fill="#000"/>
<circle cx="100.35" cy="869.30" r="2.4" fill="#000"/>
<circle cx="121.81" cy="869.30" r="2.4" fill="#000"/>
<circle cx="143.27" cy="869.30" r="2.4" fill="#000"/>
<circle cx="164.73" cy="869.30" r="2.4" fill="#000"/>
<circle cx="186.19" cy="869.30" r="2.4" fill="#000"/>
<circle cx="207.65" cy="869.30" r="2.4" fill="#000"/>
<circle cx="229.11" cy="869.30" r="2.4" fill="#000"/>
<circle cx="250.57" cy="869.30" r="2.4" fill="#000"/>
<circle cx="272.03" cy="869.30" r="2.4" fill="#000"/>
<circle cx="293.49" cy="869.30" r="2.4" fill="#000"/>
<circle cx="314.95" cy="869.30" r="2.4" fill="#000"/>
<circle cx="336.41" cy="869.30" r="2.4" fill="#000"/>
<circle cx="357.87" cy="869.30" r="2.4" fill="#000"/>
<circle cx="379.33" cy="869.30" r="2.4" fill="#000"/>
<circle cx="400.79" cy="869.30" r="2.4" fill="#000"/>
<circle cx="422.25" cy="869.30" r="2.4" fill="#000"/>
<circle cx="443.71" cy="869.30" r="2.4" fill="#000"/>
<circle cx="465.17" cy="869.30" r="2.4" fill="#000"/>
<text x="478.59" y="875.80" font-size="21.3" fill="#000">G</text>
<circle cx="508.09" cy="869.30" r="2.4" fill="#000"/>
<circle cx="529.55" cy="869.30" r="2.4" fill="#000"/>
<text x="561.17" y="877.40" font-size="20" textLength="45.32" lengthAdjust="spacingAndGlyphs">1629</text>
<circle cx="57.43" cy="890.80" r="2.4" fill="#000"/>
<circle cx="78.89" cy="890.80" r="2.4" fill="#000"/>
<circle cx="100.35" cy="890.80" r="2.4" fill="#000"/>
<circle cx="121.81" cy="890.80" r="2.4" fill="#000"/>
<circle cx="143.27" cy="890.80" r="2.4" fill="#000"/>
<rect x="154.00" y="878.60" width="21.46" height="21.30" fill="#f4f400"/>
<text x="156.69" y="897.30" font-size="21.3" fill="#000">G</text>
<rect x="175.46" y="878.60" width="21.46" height="21.30" fill="#f75555"/>
<text x="179.11" y="897.30" font-size="21.3" fill="#000">A</text>
<circle cx="207.65" cy="890.80" r="2.4" fill="#000"/>
<circle cx="229.11" cy="890.80" r="2.4" fill="#000"/>
<circle cx="250.57" cy="890.80" r="2.4" fill="#000"/>
<circle cx="272.03" cy="890.80" r="2.4" fill="#000"/>
<circle cx="293.49" cy="890.80" r="2.4" fill="#000"/>
<circle cx="314.95" cy="890.80" r="2.4" fill="#000"/>
<circle cx="336.41" cy="890.80" r="2.4" fill="#000"/>
<circle cx="357.87" cy="890.80" r="2.4" fill="#000"/>
<circle cx="379.33" cy="890.80" r="2.4" fill="#000"/>
<circle cx="400.79" cy="890.80" r="2.4" fill="#000"/>
<circle cx="422.25" cy="890.80" r="2.4" fill="#000"/>
<circle cx="443.71" cy="890.80" r="2.4" fill="#000"/>
<circle cx="465.17" cy="890.80" r="2.4" fill="#000"/>
<text x="478.59" y="897.30" font-size="21.3" fill="#000">G</text>
<circle cx="508.09" cy="890.80" r="2.4" fill="#000"/>
<circle cx="529.55" cy="890.80" r="2.4" fill="#000"/>
<text x="561.17" y="898.90" font-size="20" textLength="45.32" lengthAdjust="spacingAndGlyphs">1276</text>
<rect x="728.20" y="800.00" width="21.76" height="21.40" fill="#f4f400"/>
<rect x="749.66" y="800.00" width="21.76" height="21.40" fill="#f4f400"/>
<rect x="771.12" y="800.00" width="21.76" height="21.40" fill="#2aa8fa"/>
<rect x="792.58" y="800.00" width="21.76" height="21.40" fill="#f75555"/>
<rect x="814.04" y="800.00" width="21.76" height="21.40" fill="#2aa8fa"/>
<rect x="835.50" y="800.00" width="21.76" height="21.40" fill="#00c81c"/>
<rect x="856.96" y="800.00" width="21.76" height="21.40" fill="#f4f400"/>
<rect x="878.42" y="800.00" width="21.76" height="21.40" fill="#2aa8fa"/>
<rect x="899.88" y="800.00" width="21.76" height="21.40" fill="#f4f400"/>
<rect x="921.34" y="800.00" width="21.76" height="21.40" fill="#f4f400"/>
<rect x="942.80" y="800.00" width="21.76" height="21.40" fill="#2aa8fa"/>
<rect x="964.26" y="800.00" width="21.76" height="21.40" fill="#00c81c"/>
<rect x="985.72" y="800.00" width="21.76" height="21.40" fill="#f4f400"/>
<rect x="1007.18" y="800.00" width="21.76" height="21.40" fill="#f4f400"/>
<rect x="1028.64" y="800.00" width="21.76" height="21.40" fill="#f75555"/>
<rect x="1050.10" y="800.00" width="21.76" height="21.40" fill="#f4f400"/>
<rect x="1071.56" y="800.00" width="21.76" height="21.40" fill="#f4f400"/>
<rect x="1093.02" y="800.00" width="21.76" height="21.40" fill="#00c81c"/>
<rect x="1114.48" y="800.00" width="21.76" height="21.40" fill="#f4f400"/>
<rect x="1135.94" y="800.00" width="21.76" height="21.40" fill="#f4f400"/>
<rect x="1157.40" y="800.00" width="21.76" height="21.40" fill="#b4b4b4"/>
<rect x="1178.86" y="800.00" width="21.76" height="21.40" fill="#f4f400"/>
<rect x="1200.32" y="800.00" width="21.76" height="21.40" fill="#f4f400"/>
<text x="730.89" y="819.20" font-size="21.3" fill="#000">G</text>
<text x="752.35" y="819.20" font-size="21.3" fill="#000">G</text>
<text x="774.02" y="819.20" font-size="21.3" fill="#000">C</text>
<text x="796.23" y="819.20" font-size="21.3" fill="#000">A</text>
<text x="816.94" y="819.20" font-size="21.3" fill="#000">C</text>
<text x="839.73" y="819.20" font-size="21.3" fill="#000">T</text>
<text x="859.65" y="819.20" font-size="21.3" fill="#000">G</text>
<text x="881.32" y="819.20" font-size="21.3" fill="#000">C</text>
<text x="902.57" y="819.20" font-size="21.3" fill="#000">G</text>
<text x="924.03" y="819.20" font-size="21.3" fill="#000">G</text>
<text x="945.70" y="819.20" font-size="21.3" fill="#000">C</text>
<text x="968.49" y="819.20" font-size="21.3" fill="#000">T</text>
<text x="988.41" y="819.20" font-size="21.3" fill="#000">G</text>
<text x="1009.87" y="819.20" font-size="21.3" fill="#000">G</text>
<text x="1032.29" y="819.20" font-size="21.3" fill="#000">A</text>
<text x="1052.79" y="819.20" font-size="21.3" fill="#000">G</text>
<text x="1074.25" y="819.20" font-size="21.3" fill="#000">G</text>
<text x="1097.25" y="819.20" font-size="21.3" fill="#000">T</text>
<text x="1117.17" y="819.20" font-size="21.3" fill="#000">G</text>
<text x="1138.63" y="819.20" font-size="21.3" fill="#000">G</text>
<text x="1160.46" y="819.20" font-size="21.3" fill="#000">N</text>
<text x="1181.55" y="819.20" font-size="21.3" fill="#000">G</text>
<text x="1203.01" y="819.20" font-size="21.3" fill="#000">G</text>
<text x="731.33" y="798.00" font-size="13" fill="#000">1</text>
<text x="924.60" y="798.00" font-size="13" fill="#000">10</text>
<text x="1139.36" y="798.00" font-size="13" fill="#000">20</text>
<text x="1203.77" y="798.00" font-size="13" fill="#000">23</text>
<text x="1244.15" y="819.10" font-size="20.5" fill="#000" textLength="56.15" lengthAdjust="spacingAndGlyphs">Reads</text>
<circle cx="738.93" cy="847.80" r="2.4" fill="#000"/>
<circle cx="760.39" cy="847.80" r="2.4" fill="#000"/>
<circle cx="781.85" cy="847.80" r="2.4" fill="#000"/>
<circle cx="803.31" cy="847.80" r="2.4" fill="#000"/>
<circle cx="824.77" cy="847.80" r="2.4" fill="#000"/>
<circle cx="846.23" cy="847.80" r="2.4" fill="#000"/>
<circle cx="867.69" cy="847.80" r="2.4" fill="#000"/>
<circle cx="889.15" cy="847.80" r="2.4" fill="#000"/>
<circle cx="910.61" cy="847.80" r="2.4" fill="#000"/>
<circle cx="932.07" cy="847.80" r="2.4" fill="#000"/>
<circle cx="953.53" cy="847.80" r="2.4" fill="#000"/>
<circle cx="974.99" cy="847.80" r="2.4" fill="#000"/>
<circle cx="996.45" cy="847.80" r="2.4" fill="#000"/>
<circle cx="1017.91" cy="847.80" r="2.4" fill="#000"/>
<circle cx="1039.37" cy="847.80" r="2.4" fill="#000"/>
<circle cx="1060.83" cy="847.80" r="2.4" fill="#000"/>
<circle cx="1082.29" cy="847.80" r="2.4" fill="#000"/>
<circle cx="1103.75" cy="847.80" r="2.4" fill="#000"/>
<circle cx="1125.21" cy="847.80" r="2.4" fill="#000"/>
<circle cx="1146.67" cy="847.80" r="2.4" fill="#000"/>
<text x="1160.09" y="854.30" font-size="21.3" fill="#000">G</text>
<circle cx="1189.59" cy="847.80" r="2.4" fill="#000"/>
<circle cx="1211.05" cy="847.80" r="2.4" fill="#000"/>
<text x="1243.18" y="855.90" font-size="20" textLength="45.32" lengthAdjust="spacingAndGlyphs">2904</text>
<circle cx="738.93" cy="869.30" r="2.4" fill="#000"/>
<circle cx="760.39" cy="869.30" r="2.4" fill="#000"/>
<circle cx="781.85" cy="869.30" r="2.4" fill="#000"/>
<circle cx="803.31" cy="869.30" r="2.4" fill="#000"/>
<circle cx="824.77" cy="869.30" r="2.4" fill="#000"/>
<rect x="835.50" y="857.10" width="21.46" height="21.30" fill="#f4f400"/>
<text x="838.19" y="875.80" font-size="21.3" fill="#000">G</text>
<rect x="856.96" y="857.10" width="21.46" height="21.30" fill="#f75555"/>
<text x="860.61" y="875.80" font-size="21.3" fill="#000">A</text>
<circle cx="889.15" cy="869.30" r="2.4" fill="#000"/>
<circle cx="910.61" cy="869.30" r="2.4" fill="#000"/>
<circle cx="932.07" cy="869.30" r="2.4" fill="#000"/>
<circle cx="953.53" cy="869.30" r="2.4" fill="#000"/>
<circle cx="974.99" cy="869.30" r="2.4" fill="#000"/>
<circle cx="996.45" cy="869.30" r="2.4" fill="#000"/>
<circle cx="1017.91" cy="869.30" r="2.4" fill="#000"/>
<circle cx="1039.37" cy="869.30" r="2.4" fill="#000"/>
<circle cx="1060.83" cy="869.30" r="2.4" fill="#000"/>
<circle cx="1082.29" cy="869.30" r="2.4" fill="#000"/>
<circle cx="1103.75" cy="869.30" r="2.4" fill="#000"/>
<circle cx="1125.21" cy="869.30" r="2.4" fill="#000"/>
<circle cx="1146.67" cy="869.30" r="2.4" fill="#000"/>
<text x="1160.09" y="875.80" font-size="21.3" fill="#000">G</text>
<circle cx="1189.59" cy="869.30" r="2.4" fill="#000"/>
<circle cx="1211.05" cy="869.30" r="2.4" fill="#000"/>
<text x="1243.28" y="877.40" font-size="20" textLength="33.99" lengthAdjust="spacingAndGlyphs">813</text>
<circle cx="738.93" cy="890.80" r="2.4" fill="#000"/>
<circle cx="760.39" cy="890.80" r="2.4" fill="#000"/>
<circle cx="781.85" cy="890.80" r="2.4" fill="#000"/>
<circle cx="803.31" cy="890.80" r="2.4" fill="#000"/>
<rect x="814.04" y="878.60" width="21.46" height="21.30" fill="#f75555"/>
<text x="817.69" y="897.30" font-size="21.3" fill="#000">A</text>
<circle cx="846.23" cy="890.80" r="2.4" fill="#000"/>
<circle cx="867.69" cy="890.80" r="2.4" fill="#000"/>
<circle cx="889.15" cy="890.80" r="2.4" fill="#000"/>
<circle cx="910.61" cy="890.80" r="2.4" fill="#000"/>
<circle cx="932.07" cy="890.80" r="2.4" fill="#000"/>
<circle cx="953.53" cy="890.80" r="2.4" fill="#000"/>
<circle cx="974.99" cy="890.80" r="2.4" fill="#000"/>
<circle cx="996.45" cy="890.80" r="2.4" fill="#000"/>
<circle cx="1017.91" cy="890.80" r="2.4" fill="#000"/>
<circle cx="1039.37" cy="890.80" r="2.4" fill="#000"/>
<circle cx="1060.83" cy="890.80" r="2.4" fill="#000"/>
<circle cx="1082.29" cy="890.80" r="2.4" fill="#000"/>
<rect x="1093.02" y="878.60" width="21.46" height="21.30" fill="#2aa8fa"/>
<text x="1095.92" y="897.30" font-size="21.3" fill="#000">C</text>
<circle cx="1125.21" cy="890.80" r="2.4" fill="#000"/>
<circle cx="1146.67" cy="890.80" r="2.4" fill="#000"/>
<text x="1161.05" y="897.30" font-size="21.3" fill="#000">A</text>
<circle cx="1189.59" cy="890.80" r="2.4" fill="#000"/>
<circle cx="1211.05" cy="890.80" r="2.4" fill="#000"/>
<text x="1243.18" y="898.90" font-size="20" textLength="33.99" lengthAdjust="spacingAndGlyphs">252</text>
<rect x="1409.40" y="800.00" width="21.76" height="21.40" fill="#f4f400"/>
<rect x="1430.86" y="800.00" width="21.76" height="21.40" fill="#f4f400"/>
<rect x="1452.32" y="800.00" width="21.76" height="21.40" fill="#2aa8fa"/>
<rect x="1473.78" y="800.00" width="21.76" height="21.40" fill="#f75555"/>
<rect x="1495.24" y="800.00" width="21.76" height="21.40" fill="#2aa8fa"/>
<rect x="1516.70" y="800.00" width="21.76" height="21.40" fill="#00c81c"/>
<rect x="1538.16" y="800.00" width="21.76" height="21.40" fill="#f4f400"/>
<rect x="1559.62" y="800.00" width="21.76" height="21.40" fill="#2aa8fa"/>
<rect x="1581.08" y="800.00" width="21.76" height="21.40" fill="#f4f400"/>
<rect x="1602.54" y="800.00" width="21.76" height="21.40" fill="#f4f400"/>
<rect x="1624.00" y="800.00" width="21.76" height="21.40" fill="#2aa8fa"/>
<rect x="1645.46" y="800.00" width="21.76" height="21.40" fill="#00c81c"/>
<rect x="1666.92" y="800.00" width="21.76" height="21.40" fill="#f4f400"/>
<rect x="1688.38" y="800.00" width="21.76" height="21.40" fill="#f4f400"/>
<rect x="1709.84" y="800.00" width="21.76" height="21.40" fill="#f75555"/>
<rect x="1731.30" y="800.00" width="21.76" height="21.40" fill="#f4f400"/>
<rect x="1752.76" y="800.00" width="21.76" height="21.40" fill="#f4f400"/>
<rect x="1774.22" y="800.00" width="21.76" height="21.40" fill="#00c81c"/>
<rect x="1795.68" y="800.00" width="21.76" height="21.40" fill="#f4f400"/>
<rect x="1817.14" y="800.00" width="21.76" height="21.40" fill="#f4f400"/>
<rect x="1838.60" y="800.00" width="21.76" height="21.40" fill="#b4b4b4"/>
<rect x="1860.06" y="800.00" width="21.76" height="21.40" fill="#f4f400"/>
<rect x="1881.52" y="800.00" width="21.76" height="21.40" fill="#f4f400"/>
<text x="1412.09" y="819.20" font-size="21.3" fill="#000">G</text>
<text x="1433.55" y="819.20" font-size="21.3" fill="#000">G</text>
<text x="1455.22" y="819.20" font-size="21.3" fill="#000">C</text>
<text x="1477.43" y="819.20" font-size="21.3" fill="#000">A</text>
<text x="1498.14" y="819.20" font-size="21.3" fill="#000">C</text>
<text x="1520.93" y="819.20" font-size="21.3" fill="#000">T</text>
<text x="1540.85" y="819.20" font-size="21.3" fill="#000">G</text>
<text x="1562.52" y="819.20" font-size="21.3" fill="#000">C</text>
<text x="1583.77" y="819.20" font-size="21.3" fill="#000">G</text>
<text x="1605.23" y="819.20" font-size="21.3" fill="#000">G</text>
<text x="1626.90" y="819.20" font-size="21.3" fill="#000">C</text>
<text x="1649.69" y="819.20" font-size="21.3" fill="#000">T</text>
<text x="1669.61" y="819.20" font-size="21.3" fill="#000">G</text>
<text x="1691.07" y="819.20" font-size="21.3" fill="#000">G</text>
<text x="1713.49" y="819.20" font-size="21.3" fill="#000">A</text>
<text x="1733.99" y="819.20" font-size="21.3" fill="#000">G</text>
<text x="1755.45" y="819.20" font-size="21.3" fill="#000">G</text>
<text x="1778.45" y="819.20" font-size="21.3" fill="#000">T</text>
<text x="1798.37" y="819.20" font-size="21.3" fill="#000">G</text>
<text x="1819.83" y="819.20" font-size="21.3" fill="#000">G</text>
<text x="1841.66" y="819.20" font-size="21.3" fill="#000">N</text>
<text x="1862.75" y="819.20" font-size="21.3" fill="#000">G</text>
<text x="1884.21" y="819.20" font-size="21.3" fill="#000">G</text>
<text x="1412.53" y="798.00" font-size="13" fill="#000">1</text>
<text x="1605.80" y="798.00" font-size="13" fill="#000">10</text>
<text x="1820.56" y="798.00" font-size="13" fill="#000">20</text>
<text x="1884.97" y="798.00" font-size="13" fill="#000">23</text>
<text x="1925.35" y="819.10" font-size="20.5" fill="#000" textLength="56.15" lengthAdjust="spacingAndGlyphs">Reads</text>
<circle cx="1420.13" cy="847.80" r="2.4" fill="#000"/>
<circle cx="1441.59" cy="847.80" r="2.4" fill="#000"/>
<circle cx="1463.05" cy="847.80" r="2.4" fill="#000"/>
<circle cx="1484.51" cy="847.80" r="2.4" fill="#000"/>
<circle cx="1505.97" cy="847.80" r="2.4" fill="#000"/>
<circle cx="1527.43" cy="847.80" r="2.4" fill="#000"/>
<circle cx="1548.89" cy="847.80" r="2.4" fill="#000"/>
<circle cx="1570.35" cy="847.80" r="2.4" fill="#000"/>
<circle cx="1591.81" cy="847.80" r="2.4" fill="#000"/>
<circle cx="1613.27" cy="847.80" r="2.4" fill="#000"/>
<circle cx="1634.73" cy="847.80" r="2.4" fill="#000"/>
<circle cx="1656.19" cy="847.80" r="2.4" fill="#000"/>
<circle cx="1677.65" cy="847.80" r="2.4" fill="#000"/>
<circle cx="1699.11" cy="847.80" r="2.4" fill="#000"/>
<circle cx="1720.57" cy="847.80" r="2.4" fill="#000"/>
<circle cx="1742.03" cy="847.80" r="2.4" fill="#000"/>
<circle cx="1763.49" cy="847.80" r="2.4" fill="#000"/>
<circle cx="1784.95" cy="847.80" r="2.4" fill="#000"/>
<circle cx="1806.41" cy="847.80" r="2.4" fill="#000"/>
<circle cx="1827.87" cy="847.80" r="2.4" fill="#000"/>
<text x="1841.29" y="854.30" font-size="21.3" fill="#000">G</text>
<circle cx="1870.79" cy="847.80" r="2.4" fill="#000"/>
<circle cx="1892.25" cy="847.80" r="2.4" fill="#000"/>
<text x="1924.38" y="855.90" font-size="20" textLength="45.32" lengthAdjust="spacingAndGlyphs">2036</text>
<circle cx="1420.13" cy="869.30" r="2.4" fill="#000"/>
<circle cx="1441.59" cy="869.30" r="2.4" fill="#000"/>
<circle cx="1463.05" cy="869.30" r="2.4" fill="#000"/>
<circle cx="1484.51" cy="869.30" r="2.4" fill="#000"/>
<circle cx="1505.97" cy="869.30" r="2.4" fill="#000"/>
<rect x="1516.70" y="857.10" width="21.46" height="21.30" fill="#f4f400"/>
<text x="1519.39" y="875.80" font-size="21.3" fill="#000">G</text>
<rect x="1538.16" y="857.10" width="21.46" height="21.30" fill="#f75555"/>
<text x="1541.81" y="875.80" font-size="21.3" fill="#000">A</text>
<circle cx="1570.35" cy="869.30" r="2.4" fill="#000"/>
<circle cx="1591.81" cy="869.30" r="2.4" fill="#000"/>
<circle cx="1613.27" cy="869.30" r="2.4" fill="#000"/>
<circle cx="1634.73" cy="869.30" r="2.4" fill="#000"/>
<circle cx="1656.19" cy="869.30" r="2.4" fill="#000"/>
<circle cx="1677.65" cy="869.30" r="2.4" fill="#000"/>
<circle cx="1699.11" cy="869.30" r="2.4" fill="#000"/>
<circle cx="1720.57" cy="869.30" r="2.4" fill="#000"/>
<circle cx="1742.03" cy="869.30" r="2.4" fill="#000"/>
<circle cx="1763.49" cy="869.30" r="2.4" fill="#000"/>
<circle cx="1784.95" cy="869.30" r="2.4" fill="#000"/>
<circle cx="1806.41" cy="869.30" r="2.4" fill="#000"/>
<circle cx="1827.87" cy="869.30" r="2.4" fill="#000"/>
<text x="1841.29" y="875.80" font-size="21.3" fill="#000">G</text>
<circle cx="1870.79" cy="869.30" r="2.4" fill="#000"/>
<circle cx="1892.25" cy="869.30" r="2.4" fill="#000"/>
<text x="1924.59" y="877.40" font-size="20" textLength="33.99" lengthAdjust="spacingAndGlyphs">363</text>
<rect x="1409.40" y="878.60" width="21.46" height="21.30" fill="#f75555"/>
<text x="1413.05" y="897.30" font-size="21.3" fill="#000">A</text>
<circle cx="1441.59" cy="890.80" r="2.4" fill="#000"/>
<rect x="1452.32" y="878.60" width="21.46" height="21.30" fill="#f4f400"/>
<text x="1455.01" y="897.30" font-size="21.3" fill="#000">G</text>
<circle cx="1484.51" cy="890.80" r="2.4" fill="#000"/>
<circle cx="1505.97" cy="890.80" r="2.4" fill="#000"/>
<circle cx="1527.43" cy="890.80" r="2.4" fill="#000"/>
<circle cx="1548.89" cy="890.80" r="2.4" fill="#000"/>
<circle cx="1570.35" cy="890.80" r="2.4" fill="#000"/>
<circle cx="1591.81" cy="890.80" r="2.4" fill="#000"/>
<circle cx="1613.27" cy="890.80" r="2.4" fill="#000"/>
<circle cx="1634.73" cy="890.80" r="2.4" fill="#000"/>
<circle cx="1656.19" cy="890.80" r="2.4" fill="#000"/>
<circle cx="1677.65" cy="890.80" r="2.4" fill="#000"/>
<circle cx="1699.11" cy="890.80" r="2.4" fill="#000"/>
<rect x="1709.84" y="878.60" width="21.46" height="21.30" fill="#f4f400"/>
<text x="1712.53" y="897.30" font-size="21.3" fill="#000">G</text>
<circle cx="1742.03" cy="890.80" r="2.4" fill="#000"/>
<circle cx="1763.49" cy="890.80" r="2.4" fill="#000"/>
<circle cx="1784.95" cy="890.80" r="2.4" fill="#000"/>
<circle cx="1806.41" cy="890.80" r="2.4" fill="#000"/>
<circle cx="1827.87" cy="890.80" r="2.4" fill="#000"/>
<text x="1842.83" y="897.30" font-size="21.3" fill="#000">T</text>
<circle cx="1870.79" cy="890.80" r="2.4" fill="#000"/>
<circle cx="1892.25" cy="890.80" r="2.4" fill="#000"/>
<text x="1923.87" y="898.90" font-size="20" textLength="33.99" lengthAdjust="spacingAndGlyphs">121</text>
<circle cx="1420.13" cy="912.30" r="2.4" fill="#000"/>
<circle cx="1441.59" cy="912.30" r="2.4" fill="#000"/>
<circle cx="1463.05" cy="912.30" r="2.4" fill="#000"/>
<circle cx="1484.51" cy="912.30" r="2.4" fill="#000"/>
<rect x="1495.24" y="900.10" width="21.46" height="21.30" fill="#f75555"/>
<text x="1498.89" y="918.80" font-size="21.3" fill="#000">A</text>
<circle cx="1527.43" cy="912.30" r="2.4" fill="#000"/>
<circle cx="1548.89" cy="912.30" r="2.4" fill="#000"/>
<circle cx="1570.35" cy="912.30" r="2.4" fill="#000"/>
<circle cx="1591.81" cy="912.30" r="2.4" fill="#000"/>
<circle cx="1613.27" cy="912.30" r="2.4" fill="#000"/>
<circle cx="1634.73" cy="912.30" r="2.4" fill="#000"/>
<circle cx="1656.19" cy="912.30" r="2.4" fill="#000"/>
<circle cx="1677.65" cy="912.30" r="2.4" fill="#000"/>
<circle cx="1699.11" cy="912.30" r="2.4" fill="#000"/>
<circle cx="1720.57" cy="912.30" r="2.4" fill="#000"/>
<circle cx="1742.03" cy="912.30" r="2.4" fill="#000"/>
<circle cx="1763.49" cy="912.30" r="2.4" fill="#000"/>
<rect x="1774.22" y="900.10" width="21.46" height="21.30" fill="#2aa8fa"/>
<text x="1777.12" y="918.80" font-size="21.3" fill="#000">C</text>
<circle cx="1806.41" cy="912.30" r="2.4" fill="#000"/>
<circle cx="1827.87" cy="912.30" r="2.4" fill="#000"/>
<text x="1842.25" y="918.80" font-size="21.3" fill="#000">A</text>
<circle cx="1870.79" cy="912.30" r="2.4" fill="#000"/>
<circle cx="1892.25" cy="912.30" r="2.4" fill="#000"/>
<text x="1924.38" y="920.40" font-size="20" textLength="22.66" lengthAdjust="spacingAndGlyphs">63</text>
<circle cx="1420.13" cy="933.80" r="2.4" fill="#000"/>
<circle cx="1441.59" cy="933.80" r="2.4" fill="#000"/>
<circle cx="1463.05" cy="933.80" r="2.4" fill="#000"/>
<rect x="1473.78" y="921.60" width="21.46" height="21.30" fill="#f4f400"/>
<text x="1476.47" y="940.30" font-size="21.3" fill="#000">G</text>
<circle cx="1505.97" cy="933.80" r="2.4" fill="#000"/>
<circle cx="1527.43" cy="933.80" r="2.4" fill="#000"/>
<circle cx="1548.89" cy="933.80" r="2.4" fill="#000"/>
<circle cx="1570.35" cy="933.80" r="2.4" fill="#000"/>
<circle cx="1591.81" cy="933.80" r="2.4" fill="#000"/>
<circle cx="1613.27" cy="933.80" r="2.4" fill="#000"/>
<circle cx="1634.73" cy="933.80" r="2.4" fill="#000"/>
<rect x="1645.46" y="921.60" width="21.46" height="21.30" fill="#f4f400"/>
<text x="1648.15" y="940.30" font-size="21.3" fill="#000">G</text>
<circle cx="1677.65" cy="933.80" r="2.4" fill="#000"/>
<circle cx="1699.11" cy="933.80" r="2.4" fill="#000"/>
<circle cx="1720.57" cy="933.80" r="2.4" fill="#000"/>
<circle cx="1742.03" cy="933.80" r="2.4" fill="#000"/>
<circle cx="1763.49" cy="933.80" r="2.4" fill="#000"/>
<circle cx="1784.95" cy="933.80" r="2.4" fill="#000"/>
<circle cx="1806.41" cy="933.80" r="2.4" fill="#000"/>
<circle cx="1827.87" cy="933.80" r="2.4" fill="#000"/>
<text x="1842.25" y="940.30" font-size="21.3" fill="#000">A</text>
<circle cx="1870.79" cy="933.80" r="2.4" fill="#000"/>
<circle cx="1892.25" cy="933.80" r="2.4" fill="#000"/>
<text x="1924.59" y="941.90" font-size="20" textLength="11.33" lengthAdjust="spacingAndGlyphs">3</text>
<text x="45.59" y="490.20" font-size="27.5" fill="#000" textLength="200.67" lengthAdjust="spacingAndGlyphs">Native sg-HEKs4</text>
<text x="726.92" y="490.30" font-size="27.5" fill="#000" textLength="272.03" lengthAdjust="spacingAndGlyphs">Native sg-HEKs4 (with</text>
<text x="1004.43" y="490.30" font-size="27.5" font-weight="bold" fill="#e6a6be" textLength="107.27" lengthAdjust="spacingAndGlyphs">Brd0539</text>
<text x="1112.35" y="490.30" font-size="27.5" fill="#000" textLength="9.93" lengthAdjust="spacingAndGlyphs">)</text>
<text x="1408.92" y="489.90" font-size="27.5" fill="#000" textLength="273.05" lengthAdjust="spacingAndGlyphs">Native sg-HEKs4 (with</text>
<text x="1688.24" y="489.90" font-size="27.5" font-weight="bold" fill="#a456a6" textLength="33.88" lengthAdjust="spacingAndGlyphs">A9</text>
<text x="1722.36" y="489.90" font-size="27.5" fill="#000" textLength="9.30" lengthAdjust="spacingAndGlyphs">)</text>
<text x="45.64" y="773.90" font-size="27.5" font-weight="bold" fill="#000" textLength="58.56" lengthAdjust="spacingAndGlyphs">Mal.</text>
<text x="110.35" y="773.90" font-size="27.5" fill="#000" textLength="230.34" lengthAdjust="spacingAndGlyphs">modified sg-HEKs4</text>
<text x="727.04" y="774.00" font-size="27.5" font-weight="bold" fill="#000" textLength="58.67" lengthAdjust="spacingAndGlyphs">Mal.</text>
<text x="791.50" y="774.00" font-size="27.5" fill="#000" textLength="302.90" lengthAdjust="spacingAndGlyphs">modified sg-HEKs4 (with</text>
<text x="1100.44" y="774.00" font-size="27.5" font-weight="bold" fill="#e6a6be" textLength="106.65" lengthAdjust="spacingAndGlyphs">Brd0539</text>
<text x="1207.37" y="774.00" font-size="27.5" fill="#000" textLength="8.55" lengthAdjust="spacingAndGlyphs">)</text>
<text x="1409.16" y="773.70" font-size="27.5" font-weight="bold" fill="#000" textLength="58.02" lengthAdjust="spacingAndGlyphs">Mal.</text>
<text x="1473.99" y="773.70" font-size="27.5" fill="#000" textLength="185.28" lengthAdjust="spacingAndGlyphs">sg-HEKs4 (with</text>
<text x="1664.75" y="773.70" font-size="27.5" font-weight="bold" fill="#a456a6" textLength="33.04" lengthAdjust="spacingAndGlyphs">A9</text>
<text x="1698.84" y="773.70" font-size="27.5" fill="#000" textLength="10.56" lengthAdjust="spacingAndGlyphs">)</text>
</svg>
</body></html>
